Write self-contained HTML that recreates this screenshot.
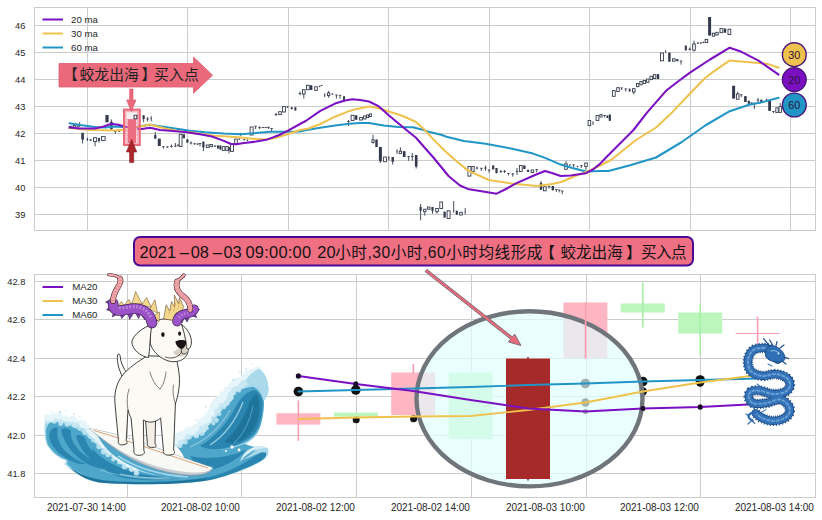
<!DOCTYPE html>
<html><head><meta charset="utf-8"><title>chart</title>
<style>html,body{margin:0;padding:0;background:#fff;}svg{display:block}</style></head>
<body><svg width="822" height="520" viewBox="0 0 822 520">
<rect width="822" height="520" fill="#fff"/>
<rect x="34.5" y="7.5" width="781.0" height="223.0" fill="#fff" stroke="#cccccc" stroke-width="1"/>
<line x1="34.5" x2="815.5" y1="214.5" y2="214.5" stroke="#cccccc" stroke-width="1"/>
<text x="25.4" y="217.7" font-size="9.3" text-anchor="end" fill="#262626" font-family="Liberation Sans, Noto Sans CJK SC, sans-serif">39</text>
<line x1="34.5" x2="815.5" y1="187.5" y2="187.5" stroke="#cccccc" stroke-width="1"/>
<text x="25.4" y="190.7" font-size="9.3" text-anchor="end" fill="#262626" font-family="Liberation Sans, Noto Sans CJK SC, sans-serif">40</text>
<line x1="34.5" x2="815.5" y1="160.5" y2="160.5" stroke="#cccccc" stroke-width="1"/>
<text x="25.4" y="163.7" font-size="9.3" text-anchor="end" fill="#262626" font-family="Liberation Sans, Noto Sans CJK SC, sans-serif">41</text>
<line x1="34.5" x2="815.5" y1="133.5" y2="133.5" stroke="#cccccc" stroke-width="1"/>
<text x="25.4" y="136.7" font-size="9.3" text-anchor="end" fill="#262626" font-family="Liberation Sans, Noto Sans CJK SC, sans-serif">42</text>
<line x1="34.5" x2="815.5" y1="106.5" y2="106.5" stroke="#cccccc" stroke-width="1"/>
<text x="25.4" y="109.7" font-size="9.3" text-anchor="end" fill="#262626" font-family="Liberation Sans, Noto Sans CJK SC, sans-serif">43</text>
<line x1="34.5" x2="815.5" y1="79.5" y2="79.5" stroke="#cccccc" stroke-width="1"/>
<text x="25.4" y="82.7" font-size="9.3" text-anchor="end" fill="#262626" font-family="Liberation Sans, Noto Sans CJK SC, sans-serif">44</text>
<line x1="34.5" x2="815.5" y1="52.5" y2="52.5" stroke="#cccccc" stroke-width="1"/>
<text x="25.4" y="55.7" font-size="9.3" text-anchor="end" fill="#262626" font-family="Liberation Sans, Noto Sans CJK SC, sans-serif">45</text>
<line x1="34.5" x2="815.5" y1="25.5" y2="25.5" stroke="#cccccc" stroke-width="1"/>
<text x="25.4" y="28.7" font-size="9.3" text-anchor="end" fill="#262626" font-family="Liberation Sans, Noto Sans CJK SC, sans-serif">46</text>
<line x1="87.5" x2="87.5" y1="7.5" y2="230.5" stroke="#cccccc" stroke-width="1"/>
<line x1="187.5" x2="187.5" y1="7.5" y2="230.5" stroke="#cccccc" stroke-width="1"/>
<line x1="288.5" x2="288.5" y1="7.5" y2="230.5" stroke="#cccccc" stroke-width="1"/>
<line x1="388.5" x2="388.5" y1="7.5" y2="230.5" stroke="#cccccc" stroke-width="1"/>
<line x1="489.5" x2="489.5" y1="7.5" y2="230.5" stroke="#cccccc" stroke-width="1"/>
<line x1="589.5" x2="589.5" y1="7.5" y2="230.5" stroke="#cccccc" stroke-width="1"/>
<line x1="690.5" x2="690.5" y1="7.5" y2="230.5" stroke="#cccccc" stroke-width="1"/>
<line x1="790.5" x2="790.5" y1="7.5" y2="230.5" stroke="#cccccc" stroke-width="1"/>
<line x1="70.5" x2="70.5" y1="126.3" y2="128.3" stroke="#343a4c" stroke-width="0.9"/>
<rect x="69.2" y="126.3" width="2.6" height="2.0" fill="#fff" stroke="#343a4c" stroke-width="0.9"/>
<line x1="74.5" x2="74.5" y1="125.6" y2="127.2" stroke="#343a4c" stroke-width="0.9"/>
<rect x="73.2" y="125.6" width="2.6" height="1.6" fill="#fff" stroke="#343a4c" stroke-width="0.9"/>
<line x1="78.0" x2="78.0" y1="124.0" y2="128.0" stroke="#343a4c" stroke-width="0.9"/>
<rect x="76.7" y="125.6" width="2.6" height="0.8" fill="#343a4c"/>
<line x1="79.7" x2="79.7" y1="122.0" y2="127.0" stroke="#343a4c" stroke-width="0.9"/>
<rect x="79.1" y="124.1" width="1.2" height="0.8" fill="#343a4c"/>
<line x1="82.6" x2="82.6" y1="132.9" y2="143.5" stroke="#343a4c" stroke-width="0.9"/>
<rect x="81.3" y="132.9" width="2.6" height="6.7" fill="#343a4c"/>
<line x1="87.4" x2="87.4" y1="137.7" y2="141.0" stroke="#343a4c" stroke-width="0.9"/>
<rect x="86.7" y="138.9" width="1.4" height="0.8" fill="#343a4c"/>
<line x1="90.6" x2="90.6" y1="139.0" y2="141.0" stroke="#343a4c" stroke-width="0.9"/>
<rect x="89.3" y="139.6" width="2.6" height="0.8" fill="#343a4c"/>
<line x1="95.1" x2="95.1" y1="137.7" y2="146.3" stroke="#343a4c" stroke-width="0.9"/>
<rect x="93.5" y="137.7" width="3.2" height="3.8" fill="#fff" stroke="#343a4c" stroke-width="0.9"/>
<line x1="99.0" x2="99.0" y1="137.9" y2="142.6" stroke="#343a4c" stroke-width="0.9"/>
<rect x="98.1" y="137.9" width="1.8" height="3.1" fill="#343a4c"/>
<line x1="103.3" x2="103.3" y1="136.6" y2="140.4" stroke="#343a4c" stroke-width="0.9"/>
<rect x="101.5" y="136.6" width="3.6" height="3.8" fill="#fff" stroke="#343a4c" stroke-width="0.9"/>
<line x1="107.0" x2="107.0" y1="115.0" y2="122.3" stroke="#343a4c" stroke-width="0.9"/>
<rect x="105.4" y="115.0" width="3.2" height="7.3" fill="#343a4c"/>
<line x1="111.4" x2="111.4" y1="119.5" y2="129.5" stroke="#343a4c" stroke-width="0.9"/>
<rect x="110.1" y="121.8" width="2.6" height="7.7" fill="#343a4c"/>
<line x1="115.3" x2="115.3" y1="130.3" y2="133.8" stroke="#343a4c" stroke-width="0.9"/>
<rect x="114.0" y="130.9" width="2.6" height="0.8" fill="#343a4c"/>
<line x1="119.3" x2="119.3" y1="130.0" y2="132.0" stroke="#343a4c" stroke-width="0.9"/>
<rect x="118.0" y="130.6" width="2.6" height="0.8" fill="#343a4c"/>
<line x1="135.8" x2="135.8" y1="115.3" y2="118.7" stroke="#343a4c" stroke-width="0.9"/>
<rect x="134.6" y="115.3" width="2.4" height="3.4" fill="#fff" stroke="#343a4c" stroke-width="0.9"/>
<line x1="139.6" x2="139.6" y1="114.8" y2="116.5" stroke="#343a4c" stroke-width="0.9"/>
<rect x="138.7" y="115.2" width="1.8" height="0.8" fill="#343a4c"/>
<line x1="143.6" x2="143.6" y1="115.3" y2="122.2" stroke="#343a4c" stroke-width="0.9"/>
<rect x="142.5" y="115.3" width="2.2" height="3.7" fill="#343a4c"/>
<line x1="147.6" x2="147.6" y1="117.0" y2="121.5" stroke="#343a4c" stroke-width="0.9"/>
<rect x="146.3" y="118.6" width="2.6" height="0.8" fill="#343a4c"/>
<line x1="151.2" x2="151.2" y1="116.0" y2="121.3" stroke="#343a4c" stroke-width="0.9"/>
<rect x="150.6" y="118.1" width="1.2" height="0.8" fill="#343a4c"/>
<line x1="155.3" x2="155.3" y1="132.0" y2="138.7" stroke="#343a4c" stroke-width="0.9"/>
<rect x="154.2" y="135.0" width="2.2" height="3.7" fill="#343a4c"/>
<line x1="159.3" x2="159.3" y1="138.7" y2="146.0" stroke="#343a4c" stroke-width="0.9"/>
<rect x="157.8" y="138.7" width="3.0" height="7.3" fill="#343a4c"/>
<line x1="163.4" x2="163.4" y1="146.5" y2="148.6" stroke="#343a4c" stroke-width="0.9"/>
<rect x="162.1" y="146.4" width="2.6" height="0.8" fill="#343a4c"/>
<line x1="167.4" x2="167.4" y1="146.4" y2="147.8" stroke="#343a4c" stroke-width="0.9"/>
<rect x="166.1" y="146.6" width="2.6" height="0.8" fill="#343a4c"/>
<line x1="171.4" x2="171.4" y1="144.5" y2="147.5" stroke="#343a4c" stroke-width="0.9"/>
<rect x="170.1" y="146.1" width="2.6" height="0.8" fill="#343a4c"/>
<line x1="175.4" x2="175.4" y1="143.0" y2="147.0" stroke="#343a4c" stroke-width="0.9"/>
<rect x="174.1" y="145.6" width="2.6" height="0.8" fill="#343a4c"/>
<line x1="178.0" x2="178.0" y1="144.0" y2="146.5" stroke="#343a4c" stroke-width="0.9"/>
<rect x="177.3" y="145.1" width="1.4" height="0.8" fill="#343a4c"/>
<line x1="180.6" x2="180.6" y1="134.3" y2="146.5" stroke="#343a4c" stroke-width="0.9"/>
<rect x="179.2" y="134.3" width="2.8" height="12.2" fill="#fff" stroke="#343a4c" stroke-width="0.9"/>
<line x1="183.8" x2="183.8" y1="134.3" y2="138.2" stroke="#343a4c" stroke-width="0.9"/>
<rect x="182.6" y="134.3" width="2.4" height="3.9" fill="#343a4c"/>
<line x1="187.4" x2="187.4" y1="139.4" y2="142.6" stroke="#343a4c" stroke-width="0.9"/>
<rect x="186.3" y="139.4" width="2.2" height="3.2" fill="#343a4c"/>
<line x1="191.0" x2="191.0" y1="141.5" y2="144.5" stroke="#343a4c" stroke-width="0.9"/>
<rect x="189.7" y="142.6" width="2.6" height="0.8" fill="#343a4c"/>
<line x1="194.6" x2="194.6" y1="143.2" y2="144.6" stroke="#343a4c" stroke-width="0.9"/>
<rect x="193.3" y="143.4" width="2.6" height="0.8" fill="#343a4c"/>
<line x1="197.6" x2="197.6" y1="143.5" y2="144.8" stroke="#343a4c" stroke-width="0.9"/>
<rect x="196.3" y="143.6" width="2.6" height="0.8" fill="#343a4c"/>
<line x1="200.0" x2="200.0" y1="143.3" y2="146.4" stroke="#343a4c" stroke-width="0.9"/>
<rect x="198.7" y="143.2" width="2.6" height="0.8" fill="#343a4c"/>
<line x1="203.4" x2="203.4" y1="141.6" y2="151.2" stroke="#343a4c" stroke-width="0.9"/>
<rect x="202.3" y="141.6" width="2.2" height="5.8" fill="#343a4c"/>
<line x1="207.7" x2="207.7" y1="145.0" y2="147.4" stroke="#343a4c" stroke-width="0.9"/>
<rect x="206.3" y="145.0" width="2.8" height="2.4" fill="#fff" stroke="#343a4c" stroke-width="0.9"/>
<line x1="211.2" x2="211.2" y1="144.5" y2="146.7" stroke="#343a4c" stroke-width="0.9"/>
<rect x="209.9" y="144.5" width="2.6" height="2.2" fill="#fff" stroke="#343a4c" stroke-width="0.9"/>
<line x1="215.0" x2="215.0" y1="145.3" y2="146.8" stroke="#343a4c" stroke-width="0.9"/>
<rect x="213.7" y="145.6" width="2.6" height="0.8" fill="#343a4c"/>
<line x1="218.0" x2="218.0" y1="145.5" y2="148.5" stroke="#343a4c" stroke-width="0.9"/>
<rect x="217.0" y="145.5" width="2.0" height="3.0" fill="#343a4c"/>
<line x1="220.4" x2="220.4" y1="145.5" y2="149.6" stroke="#343a4c" stroke-width="0.9"/>
<rect x="219.4" y="145.5" width="2.0" height="4.1" fill="#343a4c"/>
<line x1="223.6" x2="223.6" y1="146.7" y2="150.4" stroke="#343a4c" stroke-width="0.9"/>
<rect x="222.3" y="146.7" width="2.6" height="3.7" fill="#fff" stroke="#343a4c" stroke-width="0.9"/>
<line x1="227.0" x2="227.0" y1="146.4" y2="150.4" stroke="#343a4c" stroke-width="0.9"/>
<rect x="225.8" y="146.4" width="2.4" height="4.0" fill="#fff" stroke="#343a4c" stroke-width="0.9"/>
<line x1="229.0" x2="229.0" y1="147.0" y2="153.3" stroke="#343a4c" stroke-width="0.9"/>
<rect x="228.2" y="147.0" width="1.6" height="3.4" fill="#343a4c"/>
<line x1="232.0" x2="232.0" y1="143.8" y2="151.4" stroke="#343a4c" stroke-width="0.9"/>
<rect x="230.5" y="143.8" width="3.0" height="7.6" fill="#fff" stroke="#343a4c" stroke-width="0.9"/>
<line x1="236.0" x2="236.0" y1="139.1" y2="143.8" stroke="#343a4c" stroke-width="0.9"/>
<rect x="234.7" y="139.1" width="2.6" height="4.7" fill="#fff" stroke="#343a4c" stroke-width="0.9"/>
<line x1="239.3" x2="239.3" y1="138.4" y2="140.0" stroke="#343a4c" stroke-width="0.9"/>
<rect x="238.4" y="138.5" width="1.8" height="0.8" fill="#343a4c"/>
<line x1="240.6" x2="240.6" y1="132.8" y2="135.8" stroke="#343a4c" stroke-width="0.9"/>
<rect x="240.2" y="133.6" width="0.8" height="0.8" fill="#343a4c"/>
<line x1="244.2" x2="244.2" y1="139.0" y2="140.5" stroke="#343a4c" stroke-width="0.9"/>
<rect x="243.3" y="139.1" width="1.8" height="0.8" fill="#343a4c"/>
<line x1="247.4" x2="247.4" y1="139.6" y2="141.0" stroke="#343a4c" stroke-width="0.9"/>
<rect x="246.5" y="139.6" width="1.8" height="0.8" fill="#343a4c"/>
<line x1="251.6" x2="251.6" y1="127.0" y2="135.0" stroke="#343a4c" stroke-width="0.9"/>
<rect x="250.1" y="127.0" width="3.0" height="8.0" fill="#fff" stroke="#343a4c" stroke-width="0.9"/>
<line x1="255.6" x2="255.6" y1="126.0" y2="129.0" stroke="#343a4c" stroke-width="0.9"/>
<rect x="254.3" y="125.8" width="2.6" height="0.8" fill="#343a4c"/>
<line x1="259.6" x2="259.6" y1="126.3" y2="129.0" stroke="#343a4c" stroke-width="0.9"/>
<rect x="258.3" y="127.3" width="2.6" height="0.8" fill="#343a4c"/>
<line x1="263.0" x2="263.0" y1="127.0" y2="128.0" stroke="#343a4c" stroke-width="0.9"/>
<rect x="261.7" y="127.0" width="2.6" height="0.8" fill="#343a4c"/>
<line x1="266.0" x2="266.0" y1="127.0" y2="128.0" stroke="#343a4c" stroke-width="0.9"/>
<rect x="264.7" y="127.0" width="2.6" height="0.8" fill="#343a4c"/>
<line x1="268.6" x2="268.6" y1="126.9" y2="129.0" stroke="#343a4c" stroke-width="0.9"/>
<rect x="267.3" y="126.7" width="2.6" height="0.8" fill="#343a4c"/>
<line x1="271.6" x2="271.6" y1="128.4" y2="131.4" stroke="#343a4c" stroke-width="0.9"/>
<rect x="270.3" y="128.2" width="2.6" height="0.8" fill="#343a4c"/>
<line x1="276.0" x2="276.0" y1="112.8" y2="116.0" stroke="#343a4c" stroke-width="0.9"/>
<rect x="274.7" y="114.0" width="2.6" height="0.8" fill="#343a4c"/>
<line x1="280.0" x2="280.0" y1="111.7" y2="114.6" stroke="#343a4c" stroke-width="0.9"/>
<rect x="278.7" y="111.7" width="2.6" height="2.9" fill="#fff" stroke="#343a4c" stroke-width="0.9"/>
<line x1="284.0" x2="284.0" y1="106.6" y2="112.0" stroke="#343a4c" stroke-width="0.9"/>
<rect x="282.6" y="106.6" width="2.8" height="5.4" fill="#fff" stroke="#343a4c" stroke-width="0.9"/>
<line x1="287.6" x2="287.6" y1="106.3" y2="108.0" stroke="#343a4c" stroke-width="0.9"/>
<rect x="286.7" y="106.4" width="1.8" height="0.8" fill="#343a4c"/>
<line x1="291.7" x2="291.7" y1="107.3" y2="109.2" stroke="#343a4c" stroke-width="0.9"/>
<rect x="290.7" y="107.3" width="2.0" height="1.9" fill="#343a4c"/>
<line x1="295.4" x2="295.4" y1="107.3" y2="110.5" stroke="#343a4c" stroke-width="0.9"/>
<rect x="294.4" y="107.3" width="2.0" height="3.2" fill="#343a4c"/>
<line x1="300.0" x2="300.0" y1="91.5" y2="95.2" stroke="#343a4c" stroke-width="0.9"/>
<rect x="298.7" y="93.0" width="2.6" height="0.8" fill="#343a4c"/>
<line x1="303.8" x2="303.8" y1="89.7" y2="98.5" stroke="#343a4c" stroke-width="0.9"/>
<rect x="302.5" y="89.7" width="2.6" height="4.3" fill="#fff" stroke="#343a4c" stroke-width="0.9"/>
<line x1="307.9" x2="307.9" y1="85.3" y2="89.7" stroke="#343a4c" stroke-width="0.9"/>
<rect x="306.5" y="85.3" width="2.8" height="4.4" fill="#fff" stroke="#343a4c" stroke-width="0.9"/>
<line x1="311.2" x2="311.2" y1="85.3" y2="90.0" stroke="#343a4c" stroke-width="0.9"/>
<rect x="310.0" y="85.3" width="2.4" height="4.7" fill="#343a4c"/>
<line x1="316.0" x2="316.0" y1="86.8" y2="90.4" stroke="#343a4c" stroke-width="0.9"/>
<rect x="314.7" y="86.8" width="2.6" height="3.6" fill="#fff" stroke="#343a4c" stroke-width="0.9"/>
<line x1="319.6" x2="319.6" y1="85.8" y2="87.2" stroke="#343a4c" stroke-width="0.9"/>
<rect x="318.7" y="85.8" width="1.8" height="0.8" fill="#343a4c"/>
<line x1="321.6" x2="321.6" y1="85.0" y2="86.0" stroke="#343a4c" stroke-width="0.9"/>
<rect x="320.7" y="84.9" width="1.8" height="0.8" fill="#343a4c"/>
<line x1="324.7" x2="324.7" y1="93.4" y2="97.0" stroke="#343a4c" stroke-width="0.9"/>
<rect x="324.1" y="94.6" width="1.2" height="0.8" fill="#343a4c"/>
<line x1="328.6" x2="328.6" y1="91.0" y2="97.7" stroke="#343a4c" stroke-width="0.9"/>
<rect x="327.4" y="93.0" width="2.4" height="2.6" fill="#fff" stroke="#343a4c" stroke-width="0.9"/>
<line x1="332.4" x2="332.4" y1="93.6" y2="95.0" stroke="#343a4c" stroke-width="0.9"/>
<rect x="331.4" y="93.6" width="2.0" height="0.8" fill="#343a4c"/>
<line x1="336.4" x2="336.4" y1="94.8" y2="98.5" stroke="#343a4c" stroke-width="0.9"/>
<rect x="335.1" y="94.6" width="2.6" height="0.8" fill="#343a4c"/>
<line x1="340.0" x2="340.0" y1="95.0" y2="98.5" stroke="#343a4c" stroke-width="0.9"/>
<rect x="338.7" y="94.8" width="2.6" height="0.8" fill="#343a4c"/>
<line x1="344.0" x2="344.0" y1="96.3" y2="101.4" stroke="#343a4c" stroke-width="0.9"/>
<rect x="343.0" y="96.3" width="2.0" height="5.1" fill="#343a4c"/>
<line x1="348.5" x2="348.5" y1="120.0" y2="126.0" stroke="#343a4c" stroke-width="0.9"/>
<rect x="347.3" y="121.0" width="2.4" height="0.8" fill="#343a4c"/>
<line x1="352.6" x2="352.6" y1="115.3" y2="120.4" stroke="#343a4c" stroke-width="0.9"/>
<rect x="351.1" y="115.3" width="3.0" height="5.1" fill="#fff" stroke="#343a4c" stroke-width="0.9"/>
<line x1="356.2" x2="356.2" y1="115.3" y2="119.7" stroke="#343a4c" stroke-width="0.9"/>
<rect x="355.0" y="115.3" width="2.4" height="4.4" fill="#343a4c"/>
<line x1="361.0" x2="361.0" y1="117.5" y2="120.0" stroke="#343a4c" stroke-width="0.9"/>
<rect x="359.6" y="117.5" width="2.8" height="2.5" fill="#fff" stroke="#343a4c" stroke-width="0.9"/>
<line x1="364.8" x2="364.8" y1="116.0" y2="119.0" stroke="#343a4c" stroke-width="0.9"/>
<rect x="363.6" y="116.0" width="2.4" height="3.0" fill="#fff" stroke="#343a4c" stroke-width="0.9"/>
<line x1="367.6" x2="367.6" y1="115.0" y2="117.6" stroke="#343a4c" stroke-width="0.9"/>
<rect x="366.6" y="115.0" width="2.0" height="2.6" fill="#fff" stroke="#343a4c" stroke-width="0.9"/>
<line x1="370.4" x2="370.4" y1="113.9" y2="116.6" stroke="#343a4c" stroke-width="0.9"/>
<rect x="369.4" y="113.9" width="2.0" height="2.7" fill="#fff" stroke="#343a4c" stroke-width="0.9"/>
<line x1="373.0" x2="373.0" y1="134.8" y2="143.5" stroke="#343a4c" stroke-width="0.9"/>
<rect x="371.9" y="139.8" width="2.2" height="2.6" fill="#fff" stroke="#343a4c" stroke-width="0.9"/>
<line x1="376.5" x2="376.5" y1="139.6" y2="147.0" stroke="#343a4c" stroke-width="0.9"/>
<rect x="375.3" y="139.6" width="2.4" height="7.4" fill="#343a4c"/>
<line x1="380.4" x2="380.4" y1="147.0" y2="163.0" stroke="#343a4c" stroke-width="0.9"/>
<rect x="378.9" y="147.0" width="3.0" height="14.2" fill="#343a4c"/>
<line x1="385.0" x2="385.0" y1="157.0" y2="161.7" stroke="#343a4c" stroke-width="0.9"/>
<rect x="383.6" y="157.0" width="2.8" height="4.7" fill="#fff" stroke="#343a4c" stroke-width="0.9"/>
<line x1="388.8" x2="388.8" y1="156.0" y2="160.5" stroke="#343a4c" stroke-width="0.9"/>
<rect x="388.3" y="158.1" width="1.0" height="0.8" fill="#343a4c"/>
<line x1="392.7" x2="392.7" y1="157.0" y2="164.6" stroke="#343a4c" stroke-width="0.9"/>
<rect x="391.5" y="157.0" width="2.4" height="4.7" fill="#343a4c"/>
<line x1="397.0" x2="397.0" y1="149.2" y2="154.0" stroke="#343a4c" stroke-width="0.9"/>
<rect x="396.6" y="151.1" width="0.8" height="0.8" fill="#343a4c"/>
<line x1="400.4" x2="400.4" y1="147.3" y2="153.5" stroke="#343a4c" stroke-width="0.9"/>
<rect x="399.2" y="151.2" width="2.4" height="2.3" fill="#fff" stroke="#343a4c" stroke-width="0.9"/>
<line x1="404.2" x2="404.2" y1="151.2" y2="157.0" stroke="#343a4c" stroke-width="0.9"/>
<rect x="402.9" y="151.2" width="2.6" height="5.8" fill="#343a4c"/>
<line x1="408.7" x2="408.7" y1="156.4" y2="160.8" stroke="#343a4c" stroke-width="0.9"/>
<rect x="407.4" y="156.2" width="2.6" height="0.8" fill="#343a4c"/>
<line x1="412.3" x2="412.3" y1="153.0" y2="160.8" stroke="#343a4c" stroke-width="0.9"/>
<rect x="411.0" y="156.2" width="2.6" height="0.8" fill="#343a4c"/>
<line x1="416.2" x2="416.2" y1="155.0" y2="168.5" stroke="#343a4c" stroke-width="0.9"/>
<rect x="414.9" y="155.0" width="2.6" height="11.5" fill="#343a4c"/>
<line x1="420.6" x2="420.6" y1="204.0" y2="220.4" stroke="#343a4c" stroke-width="0.9"/>
<rect x="419.5" y="207.0" width="2.2" height="3.8" fill="#343a4c"/>
<line x1="424.8" x2="424.8" y1="209.2" y2="215.6" stroke="#343a4c" stroke-width="0.9"/>
<rect x="423.6" y="209.2" width="2.4" height="2.5" fill="#fff" stroke="#343a4c" stroke-width="0.9"/>
<line x1="428.7" x2="428.7" y1="207.0" y2="209.2" stroke="#343a4c" stroke-width="0.9"/>
<rect x="427.4" y="207.0" width="2.6" height="2.2" fill="#fff" stroke="#343a4c" stroke-width="0.9"/>
<line x1="432.5" x2="432.5" y1="207.0" y2="213.7" stroke="#343a4c" stroke-width="0.9"/>
<rect x="431.4" y="207.0" width="2.2" height="3.8" fill="#343a4c"/>
<line x1="437.0" x2="437.0" y1="208.5" y2="213.7" stroke="#343a4c" stroke-width="0.9"/>
<rect x="435.7" y="208.5" width="2.6" height="3.2" fill="#fff" stroke="#343a4c" stroke-width="0.9"/>
<line x1="441.2" x2="441.2" y1="202.0" y2="208.5" stroke="#343a4c" stroke-width="0.9"/>
<rect x="439.8" y="202.0" width="2.8" height="6.5" fill="#fff" stroke="#343a4c" stroke-width="0.9"/>
<line x1="444.6" x2="444.6" y1="211.7" y2="217.5" stroke="#343a4c" stroke-width="0.9"/>
<rect x="443.5" y="211.7" width="2.2" height="5.8" fill="#343a4c"/>
<line x1="448.6" x2="448.6" y1="210.8" y2="218.5" stroke="#343a4c" stroke-width="0.9"/>
<rect x="447.1" y="210.8" width="3.0" height="7.7" fill="#fff" stroke="#343a4c" stroke-width="0.9"/>
<line x1="453.7" x2="453.7" y1="201.0" y2="212.7" stroke="#343a4c" stroke-width="0.9"/>
<rect x="453.2" y="210.1" width="1.0" height="0.8" fill="#343a4c"/>
<line x1="456.8" x2="456.8" y1="210.8" y2="214.6" stroke="#343a4c" stroke-width="0.9"/>
<rect x="455.7" y="210.8" width="2.2" height="3.8" fill="#343a4c"/>
<line x1="461.0" x2="461.0" y1="212.3" y2="215.0" stroke="#343a4c" stroke-width="0.9"/>
<rect x="459.7" y="212.3" width="2.6" height="2.7" fill="#fff" stroke="#343a4c" stroke-width="0.9"/>
<line x1="465.2" x2="465.2" y1="207.9" y2="214.6" stroke="#343a4c" stroke-width="0.9"/>
<rect x="464.7" y="211.6" width="1.0" height="0.8" fill="#343a4c"/>
<line x1="469.4" x2="469.4" y1="166.4" y2="176.1" stroke="#343a4c" stroke-width="0.9"/>
<rect x="467.9" y="166.4" width="3.0" height="9.7" fill="#fff" stroke="#343a4c" stroke-width="0.9"/>
<line x1="473.0" x2="473.0" y1="166.4" y2="171.5" stroke="#343a4c" stroke-width="0.9"/>
<rect x="471.8" y="166.4" width="2.4" height="5.1" fill="#fff" stroke="#343a4c" stroke-width="0.9"/>
<line x1="477.0" x2="477.0" y1="166.5" y2="169.5" stroke="#343a4c" stroke-width="0.9"/>
<rect x="475.7" y="167.6" width="2.6" height="0.8" fill="#343a4c"/>
<line x1="481.3" x2="481.3" y1="168.0" y2="171.0" stroke="#343a4c" stroke-width="0.9"/>
<rect x="480.0" y="167.8" width="2.6" height="0.8" fill="#343a4c"/>
<line x1="485.5" x2="485.5" y1="165.5" y2="170.7" stroke="#343a4c" stroke-width="0.9"/>
<rect x="484.2" y="167.6" width="2.6" height="0.8" fill="#343a4c"/>
<line x1="489.0" x2="489.0" y1="169.8" y2="172.7" stroke="#343a4c" stroke-width="0.9"/>
<rect x="487.7" y="169.5" width="2.6" height="0.8" fill="#343a4c"/>
<line x1="493.2" x2="493.2" y1="165.5" y2="169.3" stroke="#343a4c" stroke-width="0.9"/>
<rect x="492.1" y="165.5" width="2.2" height="3.8" fill="#343a4c"/>
<line x1="496.5" x2="496.5" y1="168.0" y2="173.2" stroke="#343a4c" stroke-width="0.9"/>
<rect x="495.4" y="168.0" width="2.2" height="5.2" fill="#343a4c"/>
<line x1="500.9" x2="500.9" y1="170.0" y2="173.0" stroke="#343a4c" stroke-width="0.9"/>
<rect x="499.6" y="171.1" width="2.6" height="0.8" fill="#343a4c"/>
<line x1="504.6" x2="504.6" y1="170.0" y2="173.0" stroke="#343a4c" stroke-width="0.9"/>
<rect x="503.3" y="171.1" width="2.6" height="0.8" fill="#343a4c"/>
<line x1="508.5" x2="508.5" y1="173.2" y2="175.4" stroke="#343a4c" stroke-width="0.9"/>
<rect x="507.2" y="172.9" width="2.6" height="0.8" fill="#343a4c"/>
<line x1="512.8" x2="512.8" y1="173.0" y2="176.6" stroke="#343a4c" stroke-width="0.9"/>
<rect x="511.5" y="173.6" width="2.6" height="0.8" fill="#343a4c"/>
<line x1="517.0" x2="517.0" y1="168.0" y2="175.0" stroke="#343a4c" stroke-width="0.9"/>
<rect x="515.7" y="171.1" width="2.6" height="0.8" fill="#343a4c"/>
<line x1="520.8" x2="520.8" y1="165.5" y2="171.5" stroke="#343a4c" stroke-width="0.9"/>
<rect x="519.4" y="165.5" width="2.8" height="6.0" fill="#fff" stroke="#343a4c" stroke-width="0.9"/>
<line x1="524.4" x2="524.4" y1="165.5" y2="169.0" stroke="#343a4c" stroke-width="0.9"/>
<rect x="523.2" y="165.5" width="2.4" height="3.5" fill="#343a4c"/>
<line x1="528.0" x2="528.0" y1="169.8" y2="171.9" stroke="#343a4c" stroke-width="0.9"/>
<rect x="526.9" y="169.8" width="2.2" height="2.1" fill="#343a4c"/>
<line x1="532.4" x2="532.4" y1="170.0" y2="172.5" stroke="#343a4c" stroke-width="0.9"/>
<rect x="531.1" y="170.0" width="2.6" height="2.5" fill="#fff" stroke="#343a4c" stroke-width="0.9"/>
<line x1="536.7" x2="536.7" y1="169.3" y2="172.4" stroke="#343a4c" stroke-width="0.9"/>
<rect x="535.4" y="169.2" width="2.6" height="0.8" fill="#343a4c"/>
<line x1="541.0" x2="541.0" y1="180.9" y2="189.7" stroke="#343a4c" stroke-width="0.9"/>
<rect x="539.8" y="183.0" width="2.4" height="6.7" fill="#343a4c"/>
<line x1="544.8" x2="544.8" y1="186.8" y2="190.8" stroke="#343a4c" stroke-width="0.9"/>
<rect x="543.4" y="186.8" width="2.8" height="4.0" fill="#fff" stroke="#343a4c" stroke-width="0.9"/>
<line x1="549.0" x2="549.0" y1="186.0" y2="188.5" stroke="#343a4c" stroke-width="0.9"/>
<rect x="547.7" y="185.8" width="2.6" height="0.8" fill="#343a4c"/>
<line x1="552.8" x2="552.8" y1="186.0" y2="190.3" stroke="#343a4c" stroke-width="0.9"/>
<rect x="551.6" y="186.0" width="2.4" height="4.3" fill="#343a4c"/>
<line x1="556.3" x2="556.3" y1="189.4" y2="192.0" stroke="#343a4c" stroke-width="0.9"/>
<rect x="555.0" y="189.2" width="2.6" height="0.8" fill="#343a4c"/>
<line x1="559.2" x2="559.2" y1="189.8" y2="192.4" stroke="#343a4c" stroke-width="0.9"/>
<rect x="557.9" y="189.6" width="2.6" height="0.8" fill="#343a4c"/>
<line x1="562.2" x2="562.2" y1="190.8" y2="194.2" stroke="#343a4c" stroke-width="0.9"/>
<rect x="560.9" y="190.6" width="2.6" height="0.8" fill="#343a4c"/>
<line x1="566.0" x2="566.0" y1="161.3" y2="169.3" stroke="#343a4c" stroke-width="0.9"/>
<rect x="564.7" y="163.9" width="2.6" height="5.4" fill="#fff" stroke="#343a4c" stroke-width="0.9"/>
<line x1="569.9" x2="569.9" y1="164.4" y2="165.8" stroke="#343a4c" stroke-width="0.9"/>
<rect x="569.1" y="164.5" width="1.6" height="0.8" fill="#343a4c"/>
<line x1="573.6" x2="573.6" y1="164.7" y2="167.0" stroke="#343a4c" stroke-width="0.9"/>
<rect x="572.3" y="164.5" width="2.6" height="0.8" fill="#343a4c"/>
<line x1="577.5" x2="577.5" y1="165.8" y2="167.2" stroke="#343a4c" stroke-width="0.9"/>
<rect x="576.7" y="166.0" width="1.6" height="0.8" fill="#343a4c"/>
<line x1="581.3" x2="581.3" y1="165.5" y2="168.0" stroke="#343a4c" stroke-width="0.9"/>
<rect x="580.0" y="165.3" width="2.6" height="0.8" fill="#343a4c"/>
<line x1="586.0" x2="586.0" y1="163.0" y2="169.8" stroke="#343a4c" stroke-width="0.9"/>
<rect x="584.7" y="163.0" width="2.6" height="3.4" fill="#fff" stroke="#343a4c" stroke-width="0.9"/>
<line x1="589.4" x2="589.4" y1="120.4" y2="125.6" stroke="#343a4c" stroke-width="0.9"/>
<rect x="588.1" y="120.4" width="2.6" height="5.2" fill="#fff" stroke="#343a4c" stroke-width="0.9"/>
<line x1="593.0" x2="593.0" y1="121.3" y2="125.0" stroke="#343a4c" stroke-width="0.9"/>
<rect x="592.6" y="122.6" width="0.8" height="0.8" fill="#343a4c"/>
<line x1="597.5" x2="597.5" y1="115.6" y2="120.4" stroke="#343a4c" stroke-width="0.9"/>
<rect x="596.1" y="115.6" width="2.8" height="4.8" fill="#fff" stroke="#343a4c" stroke-width="0.9"/>
<line x1="601.0" x2="601.0" y1="114.6" y2="117.0" stroke="#343a4c" stroke-width="0.9"/>
<rect x="599.9" y="114.6" width="2.2" height="2.4" fill="#fff" stroke="#343a4c" stroke-width="0.9"/>
<line x1="604.6" x2="604.6" y1="115.0" y2="117.4" stroke="#343a4c" stroke-width="0.9"/>
<rect x="603.3" y="115.1" width="2.6" height="0.8" fill="#343a4c"/>
<line x1="607.4" x2="607.4" y1="115.6" y2="118.0" stroke="#343a4c" stroke-width="0.9"/>
<rect x="606.5" y="115.6" width="1.8" height="2.4" fill="#343a4c"/>
<line x1="609.8" x2="609.8" y1="114.6" y2="120.8" stroke="#343a4c" stroke-width="0.9"/>
<rect x="608.7" y="114.6" width="2.2" height="6.2" fill="#343a4c"/>
<line x1="613.8" x2="613.8" y1="90.6" y2="96.3" stroke="#343a4c" stroke-width="0.9"/>
<rect x="612.4" y="90.6" width="2.8" height="5.7" fill="#fff" stroke="#343a4c" stroke-width="0.9"/>
<line x1="618.0" x2="618.0" y1="87.7" y2="91.5" stroke="#343a4c" stroke-width="0.9"/>
<rect x="616.7" y="87.7" width="2.6" height="3.8" fill="#fff" stroke="#343a4c" stroke-width="0.9"/>
<line x1="621.6" x2="621.6" y1="87.7" y2="90.0" stroke="#343a4c" stroke-width="0.9"/>
<rect x="620.3" y="87.5" width="2.6" height="0.8" fill="#343a4c"/>
<line x1="625.8" x2="625.8" y1="88.7" y2="91.5" stroke="#343a4c" stroke-width="0.9"/>
<rect x="624.5" y="88.5" width="2.6" height="0.8" fill="#343a4c"/>
<line x1="629.6" x2="629.6" y1="88.7" y2="91.5" stroke="#343a4c" stroke-width="0.9"/>
<rect x="628.7" y="88.7" width="1.8" height="2.8" fill="#343a4c"/>
<line x1="633.8" x2="633.8" y1="88.7" y2="94.4" stroke="#343a4c" stroke-width="0.9"/>
<rect x="632.5" y="88.7" width="2.6" height="3.3" fill="#fff" stroke="#343a4c" stroke-width="0.9"/>
<line x1="637.7" x2="637.7" y1="83.5" y2="86.7" stroke="#343a4c" stroke-width="0.9"/>
<rect x="636.5" y="83.5" width="2.4" height="3.2" fill="#fff" stroke="#343a4c" stroke-width="0.9"/>
<line x1="641.0" x2="641.0" y1="81.5" y2="84.8" stroke="#343a4c" stroke-width="0.9"/>
<rect x="639.8" y="81.5" width="2.4" height="3.3" fill="#fff" stroke="#343a4c" stroke-width="0.9"/>
<line x1="644.4" x2="644.4" y1="80.4" y2="83.5" stroke="#343a4c" stroke-width="0.9"/>
<rect x="643.2" y="80.4" width="2.4" height="3.1" fill="#fff" stroke="#343a4c" stroke-width="0.9"/>
<line x1="647.8" x2="647.8" y1="79.0" y2="82.3" stroke="#343a4c" stroke-width="0.9"/>
<rect x="646.6" y="79.0" width="2.4" height="3.3" fill="#fff" stroke="#343a4c" stroke-width="0.9"/>
<line x1="651.2" x2="651.2" y1="76.2" y2="79.6" stroke="#343a4c" stroke-width="0.9"/>
<rect x="650.0" y="76.2" width="2.4" height="3.4" fill="#fff" stroke="#343a4c" stroke-width="0.9"/>
<line x1="654.6" x2="654.6" y1="74.6" y2="78.5" stroke="#343a4c" stroke-width="0.9"/>
<rect x="653.4" y="74.6" width="2.4" height="3.9" fill="#fff" stroke="#343a4c" stroke-width="0.9"/>
<line x1="658.0" x2="658.0" y1="74.2" y2="79.0" stroke="#343a4c" stroke-width="0.9"/>
<rect x="656.8" y="74.2" width="2.4" height="4.8" fill="#343a4c"/>
<line x1="662.0" x2="662.0" y1="53.0" y2="60.8" stroke="#343a4c" stroke-width="0.9"/>
<rect x="660.5" y="53.0" width="3.0" height="7.8" fill="#fff" stroke="#343a4c" stroke-width="0.9"/>
<line x1="665.6" x2="665.6" y1="50.2" y2="53.0" stroke="#343a4c" stroke-width="0.9"/>
<rect x="665.2" y="51.1" width="0.8" height="0.8" fill="#343a4c"/>
<line x1="669.4" x2="669.4" y1="52.7" y2="61.7" stroke="#343a4c" stroke-width="0.9"/>
<rect x="668.2" y="52.7" width="2.4" height="9.0" fill="#343a4c"/>
<line x1="673.8" x2="673.8" y1="58.8" y2="61.2" stroke="#343a4c" stroke-width="0.9"/>
<rect x="672.5" y="58.8" width="2.6" height="2.4" fill="#fff" stroke="#343a4c" stroke-width="0.9"/>
<line x1="677.3" x2="677.3" y1="59.0" y2="61.2" stroke="#343a4c" stroke-width="0.9"/>
<rect x="676.2" y="59.0" width="2.2" height="2.2" fill="#343a4c"/>
<line x1="681.0" x2="681.0" y1="60.8" y2="64.6" stroke="#343a4c" stroke-width="0.9"/>
<rect x="679.7" y="60.6" width="2.6" height="0.8" fill="#343a4c"/>
<line x1="685.8" x2="685.8" y1="45.6" y2="50.4" stroke="#343a4c" stroke-width="0.9"/>
<rect x="684.8" y="45.6" width="2.0" height="4.8" fill="#343a4c"/>
<line x1="689.7" x2="689.7" y1="47.5" y2="50.5" stroke="#343a4c" stroke-width="0.9"/>
<rect x="688.4" y="48.8" width="2.6" height="0.8" fill="#343a4c"/>
<line x1="694.0" x2="694.0" y1="40.6" y2="51.5" stroke="#343a4c" stroke-width="0.9"/>
<rect x="692.7" y="44.0" width="2.6" height="6.2" fill="#fff" stroke="#343a4c" stroke-width="0.9"/>
<line x1="697.9" x2="697.9" y1="42.0" y2="44.0" stroke="#343a4c" stroke-width="0.9"/>
<rect x="696.9" y="42.6" width="2.0" height="0.8" fill="#343a4c"/>
<line x1="700.8" x2="700.8" y1="42.2" y2="43.8" stroke="#343a4c" stroke-width="0.9"/>
<rect x="699.8" y="42.6" width="2.0" height="0.8" fill="#343a4c"/>
<line x1="703.4" x2="703.4" y1="41.6" y2="43.2" stroke="#343a4c" stroke-width="0.9"/>
<rect x="702.4" y="42.0" width="2.0" height="0.8" fill="#343a4c"/>
<line x1="706.4" x2="706.4" y1="39.4" y2="42.6" stroke="#343a4c" stroke-width="0.9"/>
<rect x="705.1" y="39.4" width="2.6" height="3.2" fill="#fff" stroke="#343a4c" stroke-width="0.9"/>
<line x1="709.6" x2="709.6" y1="17.0" y2="35.5" stroke="#343a4c" stroke-width="0.9"/>
<rect x="708.1" y="17.0" width="3.0" height="18.5" fill="#343a4c"/>
<line x1="713.5" x2="713.5" y1="33.2" y2="36.2" stroke="#343a4c" stroke-width="0.9"/>
<rect x="712.3" y="33.2" width="2.4" height="3.0" fill="#fff" stroke="#343a4c" stroke-width="0.9"/>
<line x1="717.0" x2="717.0" y1="32.3" y2="35.0" stroke="#343a4c" stroke-width="0.9"/>
<rect x="715.8" y="32.3" width="2.4" height="2.7" fill="#fff" stroke="#343a4c" stroke-width="0.9"/>
<line x1="721.4" x2="721.4" y1="28.6" y2="32.7" stroke="#343a4c" stroke-width="0.9"/>
<rect x="720.0" y="28.6" width="2.8" height="4.1" fill="#fff" stroke="#343a4c" stroke-width="0.9"/>
<line x1="725.0" x2="725.0" y1="28.6" y2="32.7" stroke="#343a4c" stroke-width="0.9"/>
<rect x="723.8" y="28.6" width="2.4" height="4.1" fill="#343a4c"/>
<line x1="729.4" x2="729.4" y1="29.2" y2="34.6" stroke="#343a4c" stroke-width="0.9"/>
<rect x="728.0" y="29.2" width="2.8" height="5.4" fill="#fff" stroke="#343a4c" stroke-width="0.9"/>
<line x1="733.6" x2="733.6" y1="85.8" y2="98.5" stroke="#343a4c" stroke-width="0.9"/>
<rect x="732.1" y="85.8" width="3.0" height="12.7" fill="#343a4c"/>
<line x1="737.7" x2="737.7" y1="91.6" y2="99.2" stroke="#343a4c" stroke-width="0.9"/>
<rect x="736.4" y="93.9" width="2.6" height="5.3" fill="#fff" stroke="#343a4c" stroke-width="0.9"/>
<line x1="741.2" x2="741.2" y1="94.6" y2="97.0" stroke="#343a4c" stroke-width="0.9"/>
<rect x="739.9" y="94.4" width="2.6" height="0.8" fill="#343a4c"/>
<line x1="745.4" x2="745.4" y1="96.2" y2="102.0" stroke="#343a4c" stroke-width="0.9"/>
<rect x="744.1" y="96.2" width="2.6" height="5.8" fill="#343a4c"/>
<line x1="748.8" x2="748.8" y1="100.8" y2="103.8" stroke="#343a4c" stroke-width="0.9"/>
<rect x="747.7" y="100.8" width="2.2" height="3.0" fill="#343a4c"/>
<line x1="751.6" x2="751.6" y1="102.4" y2="104.0" stroke="#343a4c" stroke-width="0.9"/>
<rect x="750.3" y="102.6" width="2.6" height="0.8" fill="#343a4c"/>
<line x1="754.4" x2="754.4" y1="103.0" y2="109.0" stroke="#343a4c" stroke-width="0.9"/>
<rect x="753.1" y="102.8" width="2.6" height="0.8" fill="#343a4c"/>
<line x1="758.0" x2="758.0" y1="98.0" y2="102.0" stroke="#343a4c" stroke-width="0.9"/>
<rect x="756.7" y="99.6" width="2.6" height="0.8" fill="#343a4c"/>
<line x1="761.3" x2="761.3" y1="99.7" y2="103.0" stroke="#343a4c" stroke-width="0.9"/>
<rect x="760.2" y="99.7" width="2.2" height="3.3" fill="#343a4c"/>
<line x1="766.6" x2="766.6" y1="98.5" y2="100.8" stroke="#343a4c" stroke-width="0.9"/>
<rect x="766.1" y="99.1" width="1.0" height="0.8" fill="#343a4c"/>
<line x1="769.6" x2="769.6" y1="100.8" y2="110.8" stroke="#343a4c" stroke-width="0.9"/>
<rect x="768.2" y="100.8" width="2.8" height="10.0" fill="#343a4c"/>
<line x1="773.5" x2="773.5" y1="111.2" y2="113.0" stroke="#343a4c" stroke-width="0.9"/>
<rect x="772.2" y="110.9" width="2.6" height="0.8" fill="#343a4c"/>
<line x1="777.0" x2="777.0" y1="107.8" y2="112.4" stroke="#343a4c" stroke-width="0.9"/>
<rect x="775.8" y="107.8" width="2.4" height="4.6" fill="#fff" stroke="#343a4c" stroke-width="0.9"/>
<line x1="780.2" x2="780.2" y1="103.0" y2="112.4" stroke="#343a4c" stroke-width="0.9"/>
<rect x="779.0" y="106.6" width="2.4" height="5.8" fill="#fff" stroke="#343a4c" stroke-width="0.9"/>
<polyline points="69.6,123.3 80.0,125.0 95.0,127.0 105.0,127.5 115.0,126.5 122.0,127.0 140.0,126.3 150.0,124.8 160.0,126.3 175.0,128.5 190.0,130.7 205.0,132.2 223.8,133.6 241.3,134.3 256.0,133.0 270.5,131.8 285.0,131.8 300.0,131.4 304.0,130.5 320.0,127.7 335.0,125.5 349.5,123.7 360.0,122.9 369.0,122.9 383.8,125.5 398.4,127.0 413.0,127.2 423.5,130.0 427.6,131.4 442.0,135.0 446.5,136.7 463.8,141.0 480.0,143.0 485.5,143.7 511.0,148.5 533.0,153.6 545.0,157.9 559.0,163.9 572.4,168.0 586.0,171.5 600.0,171.0 608.5,171.0 631.0,165.0 656.0,157.5 681.0,142.5 706.0,125.0 729.7,111.2 749.0,104.8 761.0,102.5 778.6,97.8" fill="none" stroke="#2196c6" stroke-width="2.05" stroke-linejoin="round" stroke-linecap="round"/>
<polyline points="69.6,127.9 90.0,130.0 115.0,130.5 125.0,129.5 140.0,126.8 150.0,124.6 165.0,128.5 180.0,131.4 194.6,132.8 200.0,133.9 215.0,135.8 223.8,136.2 238.4,137.2 253.0,138.7 264.7,139.4 275.0,138.0 285.0,135.0 294.0,132.0 300.0,130.0 308.6,128.5 320.3,124.0 335.0,116.7 349.5,110.9 354.6,109.5 369.2,106.6 378.0,108.0 389.6,111.7 402.8,116.0 416.0,122.0 423.2,128.5 433.4,139.4 445.0,151.0 456.0,160.8 467.7,170.4 480.0,176.0 489.0,180.0 511.0,183.4 536.7,186.0 552.0,184.0 562.0,181.7 575.8,175.8 589.5,170.7 600.0,165.5 611.0,160.0 636.0,140.0 656.0,127.5 670.0,114.6 690.0,93.5 705.4,77.7 710.0,74.2 729.7,60.4 749.3,62.3 767.8,63.9 778.6,67.8" fill="none" stroke="#efc24d" stroke-width="2.05" stroke-linejoin="round" stroke-linecap="round"/>
<polyline points="69.6,127.6 80.0,128.5 95.0,128.6 103.0,126.8 111.4,123.7 118.0,124.8 125.0,126.5 140.0,129.2 150.0,127.7 160.0,130.0 170.0,130.7 185.0,132.0 200.0,134.3 212.0,136.5 223.8,140.9 231.0,144.0 236.0,144.3 244.2,143.0 256.0,141.6 267.6,139.4 279.3,135.0 288.0,130.7 300.0,124.0 305.7,121.0 320.3,110.9 335.0,103.6 345.0,100.4 352.4,99.2 360.0,100.0 369.0,101.5 378.0,105.8 389.6,116.0 402.8,127.0 416.0,137.8 427.6,151.0 433.0,157.0 448.5,176.0 460.0,185.5 467.7,188.9 480.0,191.0 496.6,193.7 505.0,189.5 516.0,183.4 535.0,175.0 545.0,171.0 552.0,173.0 560.5,176.0 570.7,175.4 586.0,173.2 593.0,169.5 600.0,163.9 606.0,157.5 621.0,142.5 633.5,130.0 647.0,112.7 666.0,90.8 678.0,81.5 690.0,72.6 710.0,59.5 729.7,47.7 740.0,51.2 758.5,60.6 778.6,74.7" fill="none" stroke="#7b10c2" stroke-width="2.05" stroke-linejoin="round" stroke-linecap="round"/>
<line x1="42.5" x2="63" y1="19.5" y2="19.5" stroke="#7b10c2" stroke-width="2"/>
<text x="71" y="22.9" font-size="9.7" fill="#262626" font-family="Liberation Sans, Noto Sans CJK SC, sans-serif">20 ma</text>
<line x1="42.5" x2="63" y1="33.5" y2="33.5" stroke="#efc24d" stroke-width="2"/>
<text x="71" y="36.9" font-size="9.7" fill="#262626" font-family="Liberation Sans, Noto Sans CJK SC, sans-serif">30 ma</text>
<line x1="42.5" x2="63" y1="47.5" y2="47.5" stroke="#2196c6" stroke-width="2"/>
<text x="71" y="50.9" font-size="9.7" fill="#262626" font-family="Liberation Sans, Noto Sans CJK SC, sans-serif">60 ma</text>
<polygon points="59,63.5 193.5,63.5 193.5,57 212.5,75.2 193.5,93.2 193.5,87 59,87" fill="#ea6a7c" stroke="#e05a70" stroke-width="0.8"/>
<text x="62.9" y="79.8" font-size="14.8" fill="#222" font-family="Liberation Sans, Noto Sans CJK SC, sans-serif">【</text>
<text x="79.6" y="79.8" font-size="14.8" fill="#222" textLength="59.1" lengthAdjust="spacing" font-family="Liberation Sans, Noto Sans CJK SC, sans-serif">蛟龙出海</text>
<text x="141.4" y="79.8" font-size="14.8" fill="#222" font-family="Liberation Sans, Noto Sans CJK SC, sans-serif">】</text>
<text x="154" y="79.8" font-size="14.8" fill="#222" textLength="44.9" lengthAdjust="spacing" font-family="Liberation Sans, Noto Sans CJK SC, sans-serif">买入点</text>
<rect x="124" y="109.6" width="15.8" height="35.4" fill="#f07a8c" fill-opacity="0.55" stroke="#ea6a7c" stroke-width="2"/>
<rect x="126.6" y="112.3" width="10.4" height="6.9" fill="#f6f0f2"/>
<rect x="127.6" y="119.2" width="8.4" height="23.7" fill="#ec6d80"/>
<line x1="127" x2="127" y1="112" y2="143.5" stroke="#fbe3e7" stroke-width="0.9" stroke-dasharray="2.4,1.6"/>
<line x1="136.6" x2="136.6" y1="112" y2="143.5" stroke="#fbe3e7" stroke-width="0.9" stroke-dasharray="2.4,1.6"/>
<rect x="134" y="115.2" width="2.8" height="3.6" fill="none" stroke="#343a4c" stroke-width="0.9"/>
<polygon points="129.6,89 133,89 133,100 136,100 131.3,111.5 126.6,100 129.6,100" fill="#ea6a7c" stroke="#d9566b" stroke-width="0.6"/>
<polygon points="131.6,139.3 136.8,152 133.7,152 133.7,162.6 129.6,162.6 129.6,152 126.4,152" fill="#a8262c" stroke="#8e1c22" stroke-width="0.6"/>
<circle cx="794.3" cy="54.7" r="11.9" fill="#efc24d" stroke="#4a167a" stroke-width="1.4"/>
<text x="794.3" y="58.7" font-size="10.8" text-anchor="middle" fill="#2a1238" font-family="Liberation Sans, Noto Sans CJK SC, sans-serif">30</text>
<circle cx="794.3" cy="79.6" r="11.9" fill="#7b10c2" stroke="#4a167a" stroke-width="1.4"/>
<text x="794.3" y="83.6" font-size="10.8" text-anchor="middle" fill="#2a1238" font-family="Liberation Sans, Noto Sans CJK SC, sans-serif">20</text>
<circle cx="794.3" cy="105" r="11.9" fill="#2196c6" stroke="#4a167a" stroke-width="1.4"/>
<text x="794.3" y="109" font-size="10.8" text-anchor="middle" fill="#2a1238" font-family="Liberation Sans, Noto Sans CJK SC, sans-serif">60</text>
<rect x="34.5" y="274.5" width="781.0" height="223.0" fill="#fff" stroke="#cccccc" stroke-width="1"/>
<line x1="34.5" x2="815.5" y1="281.5" y2="281.5" stroke="#cccccc" stroke-width="1"/>
<text x="25.4" y="284.7" font-size="9.3" text-anchor="end" fill="#262626" font-family="Liberation Sans, Noto Sans CJK SC, sans-serif">42.8</text>
<line x1="34.5" x2="815.5" y1="319.5" y2="319.5" stroke="#cccccc" stroke-width="1"/>
<text x="25.4" y="322.7" font-size="9.3" text-anchor="end" fill="#262626" font-family="Liberation Sans, Noto Sans CJK SC, sans-serif">42.6</text>
<line x1="34.5" x2="815.5" y1="358.5" y2="358.5" stroke="#cccccc" stroke-width="1"/>
<text x="25.4" y="361.7" font-size="9.3" text-anchor="end" fill="#262626" font-family="Liberation Sans, Noto Sans CJK SC, sans-serif">42.4</text>
<line x1="34.5" x2="815.5" y1="396.5" y2="396.5" stroke="#cccccc" stroke-width="1"/>
<text x="25.4" y="399.7" font-size="9.3" text-anchor="end" fill="#262626" font-family="Liberation Sans, Noto Sans CJK SC, sans-serif">42.2</text>
<line x1="34.5" x2="815.5" y1="435.5" y2="435.5" stroke="#cccccc" stroke-width="1"/>
<text x="25.4" y="438.7" font-size="9.3" text-anchor="end" fill="#262626" font-family="Liberation Sans, Noto Sans CJK SC, sans-serif">42.0</text>
<line x1="34.5" x2="815.5" y1="473.5" y2="473.5" stroke="#cccccc" stroke-width="1"/>
<text x="25.4" y="476.7" font-size="9.3" text-anchor="end" fill="#262626" font-family="Liberation Sans, Noto Sans CJK SC, sans-serif">41.8</text>
<line x1="127.5" x2="127.5" y1="274.5" y2="497.5" stroke="#cccccc" stroke-width="1"/>
<text x="125.9" y="511" font-size="10" text-anchor="end" fill="#262626" font-family="Liberation Sans, Noto Sans CJK SC, sans-serif">2021-07-30 14:00</text>
<line x1="241.5" x2="241.5" y1="274.5" y2="497.5" stroke="#cccccc" stroke-width="1"/>
<text x="239.9" y="511" font-size="10" text-anchor="end" fill="#262626" font-family="Liberation Sans, Noto Sans CJK SC, sans-serif">2021-08-02 10:00</text>
<line x1="356.5" x2="356.5" y1="274.5" y2="497.5" stroke="#cccccc" stroke-width="1"/>
<text x="354.9" y="511" font-size="10" text-anchor="end" fill="#262626" font-family="Liberation Sans, Noto Sans CJK SC, sans-serif">2021-08-02 12:00</text>
<line x1="471.5" x2="471.5" y1="274.5" y2="497.5" stroke="#cccccc" stroke-width="1"/>
<text x="469.9" y="511" font-size="10" text-anchor="end" fill="#262626" font-family="Liberation Sans, Noto Sans CJK SC, sans-serif">2021-08-02 14:00</text>
<line x1="586.5" x2="586.5" y1="274.5" y2="497.5" stroke="#cccccc" stroke-width="1"/>
<text x="584.9" y="511" font-size="10" text-anchor="end" fill="#262626" font-family="Liberation Sans, Noto Sans CJK SC, sans-serif">2021-08-03 10:00</text>
<line x1="700.5" x2="700.5" y1="274.5" y2="497.5" stroke="#cccccc" stroke-width="1"/>
<text x="698.9" y="511" font-size="10" text-anchor="end" fill="#262626" font-family="Liberation Sans, Noto Sans CJK SC, sans-serif">2021-08-03 12:00</text>
<text x="813.9" y="511" font-size="10" text-anchor="end" fill="#262626" font-family="Liberation Sans, Noto Sans CJK SC, sans-serif">2021-08-03 14:00</text>
<circle cx="298.4" cy="391.5" r="4.8" fill="#111"/>
<circle cx="298.4" cy="419" r="4.2" fill="#111"/>
<circle cx="298.4" cy="376" r="2.6" fill="#111"/>
<circle cx="355.8" cy="390" r="4.8" fill="#111"/>
<circle cx="356.2" cy="419.7" r="3.5" fill="#111"/>
<circle cx="355.8" cy="384" r="2.6" fill="#111"/>
<circle cx="413.2" cy="388.5" r="4.8" fill="#111"/>
<circle cx="413.6" cy="418.7" r="3.5" fill="#111"/>
<circle cx="413.2" cy="391" r="2.6" fill="#111"/>
<circle cx="470.6" cy="387" r="4.8" fill="#111"/>
<circle cx="470.6" cy="416" r="4.2" fill="#111"/>
<circle cx="470.6" cy="400" r="2.6" fill="#111"/>
<circle cx="528.0" cy="385" r="4.8" fill="#111"/>
<circle cx="528.0" cy="410" r="4.2" fill="#111"/>
<circle cx="528.0" cy="408.5" r="2.6" fill="#111"/>
<circle cx="585.4" cy="383.5" r="4.8" fill="#111"/>
<circle cx="585.4" cy="402.5" r="4.2" fill="#111"/>
<circle cx="585.4" cy="411.5" r="2.6" fill="#111"/>
<circle cx="642.8" cy="381.5" r="4.8" fill="#111"/>
<circle cx="642.8" cy="391.5" r="4.2" fill="#111"/>
<circle cx="642.8" cy="408.5" r="2.6" fill="#111"/>
<circle cx="700.2" cy="380" r="4.8" fill="#111"/>
<circle cx="700.2" cy="382.5" r="4.2" fill="#111"/>
<circle cx="700.2" cy="407" r="2.6" fill="#111"/>
<rect x="276.4" y="413.2" width="44" height="11.400000000000034" fill="#ffb6c3" fill-opacity="1"/>
<line x1="298.4" x2="298.4" y1="400.4" y2="440.8" stroke="#ff9fb3" stroke-width="1.6"/>
<rect x="333.8" y="412.6" width="44" height="4.0" fill="#bdf6bd" fill-opacity="1"/>
<line x1="355.8" x2="355.8" y1="412.6" y2="416.6" stroke="#bdf6bd" stroke-width="1.6"/>
<rect x="391.2" y="372.5" width="44" height="42.5" fill="#ffb6c3" fill-opacity="1"/>
<line x1="413.2" x2="413.2" y1="372.5" y2="415" stroke="#ffb6c3" stroke-width="1.6"/>
<rect x="448.6" y="372.5" width="44" height="66.5" fill="#bdf6bd" fill-opacity="1"/>
<line x1="470.6" x2="470.6" y1="372.5" y2="439" stroke="#bdf6bd" stroke-width="1.6"/>
<rect x="563.4" y="302.5" width="44" height="56.0" fill="#ffb6c3" fill-opacity="1"/>
<line x1="585.4" x2="585.4" y1="302.5" y2="358.5" stroke="#ffd3db" stroke-width="1.6"/>
<rect x="620.8" y="303.5" width="44" height="9.0" fill="#bdf6bd" fill-opacity="1"/>
<line x1="642.8" x2="642.8" y1="282.5" y2="327.5" stroke="#a6f0a6" stroke-width="1.6"/>
<rect x="678.2" y="312.5" width="44" height="21.0" fill="#bdf6bd" fill-opacity="1"/>
<line x1="700.2" x2="700.2" y1="304" y2="355" stroke="#a6f0a6" stroke-width="1.6"/>
<rect x="735.6" y="333" width="44" height="1" fill="#ff9fb0" fill-opacity="1"/>
<line x1="757.6" x2="757.6" y1="316.5" y2="345" stroke="#ff9fb0" stroke-width="1.6"/>
<ellipse cx="529.5" cy="398.8" rx="113" ry="87.6" fill="#e0ffff" fill-opacity="0.68" stroke="#70747b" stroke-width="4.4"/>
<line x1="585.6" x2="585.6" y1="302.5" y2="358.5" stroke="#ff9db0" stroke-width="1.8"/>
<line x1="413.4" x2="413.4" y1="364" y2="373" stroke="#ff9db0" stroke-width="1.6"/>
<line x1="528" x2="528" y1="357" y2="480.5" stroke="#7a1a1a" stroke-width="1.4"/>
<rect x="506" y="358.5" width="44" height="120.5" fill="#a62a2a"/>
<polyline points="298.4,391.5 355.8,390.0 413.2,388.5 470.6,387.0 528.0,385.0 585.4,383.5 642.8,381.5 700.2,380.0 757.6,378.5" fill="none" stroke="#2196c6" stroke-width="1.9" stroke-linejoin="round" stroke-linecap="round"/>
<polyline points="298.4,419.0 355.8,417.5 413.2,416.5 470.6,416.0 528.0,410.0 585.4,402.5 642.8,391.5 700.2,382.5 757.6,375.0" fill="none" stroke="#efc24d" stroke-width="1.9" stroke-linejoin="round" stroke-linecap="round"/>
<polyline points="298.4,376.0 355.8,384.0 413.2,391.0 470.6,400.0 528.0,408.5 585.4,411.5 642.8,408.5 700.2,407.0 757.6,404.0" fill="none" stroke="#7b10c2" stroke-width="1.9" stroke-linejoin="round" stroke-linecap="round"/>
<circle cx="298.4" cy="376" r="2.4" fill="#1a0a2a"/>
<circle cx="355.8" cy="384" r="2.4" fill="#1a0a2a"/>
<circle cx="642.8" cy="408.5" r="2.4" fill="#1a0a2a"/>
<circle cx="700.2" cy="407" r="2.4" fill="#1a0a2a"/>
<line x1="42.5" x2="63" y1="287" y2="287" stroke="#7b10c2" stroke-width="2"/>
<text x="72.2" y="290.4" font-size="9.7" fill="#262626" font-family="Liberation Sans, Noto Sans CJK SC, sans-serif">MA20</text>
<line x1="42.5" x2="63" y1="301" y2="301" stroke="#efc24d" stroke-width="2"/>
<text x="72.2" y="304.4" font-size="9.7" fill="#262626" font-family="Liberation Sans, Noto Sans CJK SC, sans-serif">MA30</text>
<line x1="42.5" x2="63" y1="315" y2="315" stroke="#2196c6" stroke-width="2"/>
<text x="72.2" y="318.4" font-size="9.7" fill="#262626" font-family="Liberation Sans, Noto Sans CJK SC, sans-serif">MA60</text>
<g transform="translate(426,270.5) rotate(38.3)"><polygon points="0,-1.4 109,-1.4 109,-5 121,0 109,5 109,1.4 0,1.4" fill="#ea6a7c" stroke="#7a6a72" stroke-width="0.9"/></g>
<rect x="134" y="237" width="559" height="28.5" rx="6" ry="6" fill="#ef6f83" stroke="#4b0a96" stroke-width="2"/>
<text x="139.6" y="258" font-size="16.4" fill="#141414" textLength="36.5" lengthAdjust="spacing" font-family="Liberation Sans, Noto Sans CJK SC, sans-serif">2021</text>
<text x="190.7" y="258" font-size="16.4" fill="#141414" textLength="18.2" lengthAdjust="spacing" font-family="Liberation Sans, Noto Sans CJK SC, sans-serif">08</text>
<text x="223.5" y="258" font-size="16.4" fill="#141414" textLength="18.2" lengthAdjust="spacing" font-family="Liberation Sans, Noto Sans CJK SC, sans-serif">03</text>
<text x="245.4" y="258" font-size="16.4" fill="#141414" textLength="65.7" lengthAdjust="spacing" font-family="Liberation Sans, Noto Sans CJK SC, sans-serif">09:00:00</text>
<text x="317.3" y="258" font-size="16.4" fill="#141414" textLength="18.2" lengthAdjust="spacing" font-family="Liberation Sans, Noto Sans CJK SC, sans-serif">20</text>
<text transform="translate(184.3,258) scale(2.3,1)" x="0" y="0" font-size="16.4" text-anchor="middle" fill="#141414" font-family="Liberation Sans, Noto Sans CJK SC, sans-serif">-</text>
<text transform="translate(217.2,258) scale(2.3,1)" x="0" y="0" font-size="16.4" text-anchor="middle" fill="#141414" font-family="Liberation Sans, Noto Sans CJK SC, sans-serif">-</text>
<text x="335.2" y="258" font-size="15.6" fill="#141414" textLength="207.2" lengthAdjust="spacing" font-family="Liberation Sans, Noto Sans CJK SC, sans-serif">小时,30小时,60小时均线形成</text>
<text x="539.6" y="258" font-size="15.6" fill="#141414" font-family="Liberation Sans, Noto Sans CJK SC, sans-serif">【</text>
<text x="560.6" y="258" font-size="15.6" fill="#141414" textLength="62" lengthAdjust="spacing" font-family="Liberation Sans, Noto Sans CJK SC, sans-serif">蛟龙出海</text>
<text x="626" y="258" font-size="15.6" fill="#141414" font-family="Liberation Sans, Noto Sans CJK SC, sans-serif">】</text>
<text x="640.9" y="258" font-size="15.6" fill="#141414" textLength="45.6" lengthAdjust="spacing" font-family="Liberation Sans, Noto Sans CJK SC, sans-serif">买入点</text>
<g id="surf">
<!-- overall silhouette in light blue -->
<path d="M44.5,431 C44,424 46,418 50,416.5 C58,414.5 70,417 84,424 C92,429 100,440 109,450 C118,458 130,465 144,471 C158,475 172,476.5 186,476 C200,475 214,470 226,464 L236,446 C226,450 210,452 196,452 L174,441 C186,437 200,428 210,414 C222,400 236,384 258.7,368.8 C265,372 268.6,382 268.6,390 C268,396 265,399 263.6,401 C264,412 262,424 258.6,431 C256,437 251,441 246,444 L252,447 C258,446 264,446 267.6,448 C270,454 267,458 262,461 C250,468 232,475 212,480 C190,484 160,485 128,484 C108,484 94,483 86,479 C78,475 70,470 64.4,464 C66,462 66,461 66,460.5 C58,458 51,452 47,445 C45,440 44.5,436 44.5,431 Z" fill="#a9d9ea"/>
<!-- left wave body -->
<path d="M46,433 C46,427 48,423 52,422 C60,421 72,426 82,432 C90,438 98,446 106,453 C116,461 128,467 142,472 C156,476 172,478 188,477 C204,476 218,471 230,465 L262,452 C266,453 266,456 262,459 C250,466 232,473 212,478 C190,482 160,483 128,482 C108,482 96,481 88,477 C80,473 72,469 67,464 C68,462 67.6,460.5 66,459.6 C58,457 52,451 48,445 C46.6,441 46,437 46,433 Z" fill="#4ea6cb"/>
<!-- dark strands of the left wave -->
<path d="M49,436 C50,429 54,426 58,428 C56,434 58,442 64,450 C70,456 78,461 86,464 C80,465 72,462 66,458 C56,452 50,444 49,436 Z" fill="#2a86b0"/>
<path d="M61,430 C64,427 68,428 71,431 C70,438 74,446 82,453 C90,460 100,465 112,468 C104,470 94,468 86,463 C74,456 64,444 61,430 Z" fill="#2a86b0"/>
<path d="M76,436 C79,434 82,435 85,438 C86,444 92,452 100,458 C110,465 124,470 140,473 C128,475 114,473 102,467 C90,461 80,450 76,436 Z" fill="#2a86b0"/>
<path d="M92,448 C100,458 116,468 136,473 C160,478 186,478 206,474 C186,481 150,482 124,478 C108,475 96,464 92,448 Z" fill="#2a86b0"/>
<path d="M70,467 C80,475 94,480 112,481 C140,483 176,482 204,478 C224,475 242,468 260,458 C246,470 224,477 204,481 C176,485 130,485 104,483 C90,482 78,476 70,467 Z" fill="#1f749c"/>
<path d="M120,474 C150,481 190,479 222,468" fill="none" stroke="#a9d9ea" stroke-width="1.2" opacity="0.8"/>
<path d="M100,470 C130,480 170,481 200,477" fill="none" stroke="#a9d9ea" stroke-width="0.8" opacity="0.6"/>
<circle cx="54.4" cy="421.2" r="2.5" fill="#b4dfee"/><circle cx="60.7" cy="423.5" r="2.5" fill="#b4dfee"/><circle cx="67.3" cy="424.0" r="2.8" fill="#b4dfee"/><circle cx="74.5" cy="425.2" r="2.7" fill="#b4dfee"/><circle cx="79.4" cy="428.9" r="1.8" fill="#b4dfee"/><circle cx="84.8" cy="432.2" r="2.6" fill="#b4dfee"/><circle cx="90.4" cy="436.1" r="2.8" fill="#b4dfee"/><circle cx="93.5" cy="440.2" r="2.3" fill="#b4dfee"/><circle cx="99.2" cy="446.4" r="2.8" fill="#b4dfee"/><circle cx="103.6" cy="451.7" r="2.7" fill="#b4dfee"/><circle cx="108.0" cy="454.6" r="2.6" fill="#b4dfee"/><circle cx="113.2" cy="459.6" r="2.0" fill="#b4dfee"/><circle cx="118.9" cy="462.5" r="1.9" fill="#b4dfee"/><circle cx="124.4" cy="466.7" r="2.7" fill="#b4dfee"/><circle cx="131.5" cy="469.8" r="2.3" fill="#b4dfee"/><circle cx="136.5" cy="473.1" r="2.7" fill="#b4dfee"/><circle cx="47.1" cy="420.9" r="2.7" fill="#c9e8f3"/><circle cx="51.6" cy="420.3" r="2.3" fill="#c9e8f3"/><circle cx="56.9" cy="419.7" r="2.2" fill="#c9e8f3"/><circle cx="61.3" cy="419.9" r="2.8" fill="#c9e8f3"/><circle cx="66.6" cy="420.1" r="2.8" fill="#c9e8f3"/><circle cx="70.2" cy="421.5" r="2.8" fill="#c9e8f3"/><circle cx="75.1" cy="423.3" r="3.1" fill="#c9e8f3"/><circle cx="80.3" cy="424.5" r="3.1" fill="#c9e8f3"/><circle cx="83.9" cy="426.0" r="2.9" fill="#c9e8f3"/><circle cx="86.9" cy="429.5" r="3.0" fill="#c9e8f3"/><circle cx="90.9" cy="433.3" r="2.7" fill="#c9e8f3"/><circle cx="94.0" cy="436.0" r="3.2" fill="#c9e8f3"/><circle cx="97.1" cy="440.5" r="2.8" fill="#c9e8f3"/><circle cx="98.7" cy="443.2" r="2.2" fill="#c9e8f3"/><circle cx="102.3" cy="445.7" r="2.1" fill="#c9e8f3"/><circle cx="106.7" cy="450.3" r="2.9" fill="#c9e8f3"/><circle cx="110.0" cy="453.0" r="2.2" fill="#c9e8f3"/><circle cx="114.0" cy="456.4" r="2.2" fill="#c9e8f3"/><circle cx="117.8" cy="458.2" r="2.3" fill="#c9e8f3"/><circle cx="121.6" cy="461.7" r="2.7" fill="#c9e8f3"/><circle cx="124.6" cy="463.5" r="2.2" fill="#c9e8f3"/><circle cx="128.2" cy="465.5" r="2.5" fill="#c9e8f3"/><circle cx="132.0" cy="468.0" r="3.0" fill="#c9e8f3"/><circle cx="136.1" cy="469.7" r="2.6" fill="#c9e8f3"/><circle cx="47.0" cy="417.2" r="3.2" fill="#e6f5fa"/><circle cx="51.6" cy="417.7" r="3.8" fill="#e6f5fa"/><circle cx="54.8" cy="415.3" r="2.4" fill="#e6f5fa"/><circle cx="59.1" cy="416.0" r="3.4" fill="#e6f5fa"/><circle cx="64.4" cy="418.0" r="2.9" fill="#e6f5fa"/><circle cx="67.2" cy="419.2" r="2.6" fill="#e6f5fa"/><circle cx="72.3" cy="418.8" r="3.1" fill="#e6f5fa"/><circle cx="76.4" cy="420.7" r="2.3" fill="#e6f5fa"/><circle cx="80.9" cy="422.3" r="2.3" fill="#e6f5fa"/><circle cx="83.1" cy="424.6" r="3.5" fill="#e6f5fa"/><circle cx="87.3" cy="427.1" r="2.3" fill="#e6f5fa"/><circle cx="89.5" cy="431.1" r="2.7" fill="#e6f5fa"/><circle cx="91.6" cy="433.6" r="2.6" fill="#e6f5fa"/><circle cx="94.4" cy="436.1" r="2.6" fill="#e6f5fa"/><circle cx="97.5" cy="439.5" r="2.3" fill="#e6f5fa"/><circle cx="101.5" cy="442.5" r="2.7" fill="#e6f5fa"/><circle cx="103.7" cy="445.4" r="3.0" fill="#e6f5fa"/><circle cx="107.0" cy="447.7" r="2.2" fill="#e6f5fa"/><circle cx="110.8" cy="450.7" r="3.4" fill="#e6f5fa"/><circle cx="114.8" cy="453.2" r="3.0" fill="#e6f5fa"/><circle cx="117.3" cy="456.5" r="3.5" fill="#e6f5fa"/><circle cx="120.8" cy="458.9" r="3.5" fill="#e6f5fa"/><circle cx="125.5" cy="460.8" r="3.3" fill="#e6f5fa"/><circle cx="128.7" cy="463.4" r="3.5" fill="#e6f5fa"/><circle cx="131.9" cy="464.3" r="2.8" fill="#e6f5fa"/><circle cx="135.2" cy="467.4" r="2.4" fill="#e6f5fa"/>
<!-- fill between right wave and bottom swoosh -->
<path d="M176,446 C196,452 226,452 244,444 L258,448 C250,456 236,464 222,470 C206,476 190,478 176,477 C186,470 190,460 176,446 Z" fill="#4ea6cb"/>
<path d="M190,456 C206,460 228,458 246,450 C238,460 222,468 204,472 C198,468 194,462 190,456 Z" fill="#2a86b0"/>
<!-- right big wave body -->
<path d="M176,446 C192,438 206,430 216,418 C226,406 230,398 236,392 C242,388 248,388 254,386 C260,388 264,394 264,400 C264,412 262,424 258,431 C254,438 246,443 236,446 C220,452 196,453 176,446 Z" fill="#4ea6cb"/>
<path d="M200,446 C214,438 226,424 234,410 C240,398 246,392 254,390 C260,392 263,398 262.6,406 C262,418 259,428 254,434 C246,442 232,448 218,449 C210,449.6 204,448 200,446 Z" fill="#2a86b0"/>
<path d="M224,442 C236,432 244,418 249,404 C251,398 254,395 257,394 C260,400 260,410 258,419 C255,430 248,438 238,442 C233,443.6 228,443.6 224,442 Z" fill="#1f749c"/>
<path d="M210,445 C224,436 236,420 243,402" fill="none" stroke="#a9d9ea" stroke-width="1.3" opacity="0.85"/>
<path d="M190,447 C206,440 220,428 230,410" fill="none" stroke="#a9d9ea" stroke-width="1.1" opacity="0.7"/>
<path d="M234,443 C244,434 250,420 253,406" fill="none" stroke="#4ea6cb" stroke-width="1.1" opacity="0.9"/>
<circle cx="239.0" cy="390.4" r="2.2" fill="#b4dfee"/><circle cx="234.5" cy="393.1" r="1.9" fill="#b4dfee"/><circle cx="232.0" cy="398.1" r="1.9" fill="#b4dfee"/><circle cx="227.4" cy="403.4" r="2.3" fill="#b4dfee"/><circle cx="224.0" cy="407.0" r="2.3" fill="#b4dfee"/><circle cx="219.3" cy="414.0" r="2.1" fill="#b4dfee"/><circle cx="216.2" cy="420.2" r="2.5" fill="#b4dfee"/><circle cx="213.4" cy="423.4" r="1.9" fill="#b4dfee"/><circle cx="206.9" cy="428.3" r="2.0" fill="#b4dfee"/><circle cx="201.8" cy="432.9" r="2.8" fill="#b4dfee"/><circle cx="196.4" cy="435.7" r="2.6" fill="#b4dfee"/><circle cx="189.7" cy="437.7" r="1.9" fill="#b4dfee"/><circle cx="185.2" cy="441.8" r="2.6" fill="#b4dfee"/><circle cx="179.9" cy="445.4" r="2.5" fill="#b4dfee"/><circle cx="246.2" cy="381.6" r="3.7" fill="#c9e8f3"/><circle cx="242.2" cy="385.2" r="3.3" fill="#c9e8f3"/><circle cx="238.0" cy="387.6" r="3.6" fill="#c9e8f3"/><circle cx="234.8" cy="389.2" r="2.6" fill="#c9e8f3"/><circle cx="231.4" cy="389.6" r="2.6" fill="#c9e8f3"/><circle cx="230.5" cy="394.5" r="3.5" fill="#c9e8f3"/><circle cx="228.3" cy="398.8" r="3.8" fill="#c9e8f3"/><circle cx="226.5" cy="401.3" r="3.4" fill="#c9e8f3"/><circle cx="223.9" cy="403.6" r="3.7" fill="#c9e8f3"/><circle cx="218.2" cy="406.4" r="3.5" fill="#c9e8f3"/><circle cx="217.8" cy="409.5" r="3.4" fill="#c9e8f3"/><circle cx="214.8" cy="413.0" r="2.9" fill="#c9e8f3"/><circle cx="213.4" cy="415.7" r="2.4" fill="#c9e8f3"/><circle cx="209.9" cy="420.4" r="2.6" fill="#c9e8f3"/><circle cx="207.5" cy="422.5" r="2.6" fill="#c9e8f3"/><circle cx="204.3" cy="425.7" r="3.8" fill="#c9e8f3"/><circle cx="203.2" cy="429.4" r="3.3" fill="#c9e8f3"/><circle cx="198.1" cy="430.3" r="3.8" fill="#c9e8f3"/><circle cx="195.8" cy="433.5" r="3.0" fill="#c9e8f3"/><circle cx="190.4" cy="433.6" r="2.6" fill="#c9e8f3"/><circle cx="187.5" cy="436.4" r="2.8" fill="#c9e8f3"/><circle cx="182.9" cy="438.3" r="2.8" fill="#c9e8f3"/><circle cx="180.8" cy="441.9" r="3.0" fill="#c9e8f3"/><circle cx="177.2" cy="443.5" r="3.5" fill="#c9e8f3"/><circle cx="257.6" cy="370.0" r="3.8" fill="#e6f5fa"/><circle cx="256.2" cy="371.7" r="4.0" fill="#e6f5fa"/><circle cx="251.6" cy="372.0" r="3.2" fill="#e6f5fa"/><circle cx="247.4" cy="374.0" r="3.7" fill="#e6f5fa"/><circle cx="244.4" cy="376.8" r="2.8" fill="#e6f5fa"/><circle cx="240.7" cy="378.5" r="2.5" fill="#e6f5fa"/><circle cx="238.1" cy="380.2" r="2.6" fill="#e6f5fa"/><circle cx="235.3" cy="382.5" r="4.1" fill="#e6f5fa"/><circle cx="231.3" cy="385.1" r="2.9" fill="#e6f5fa"/><circle cx="229.2" cy="388.7" r="2.6" fill="#e6f5fa"/><circle cx="226.7" cy="389.9" r="3.3" fill="#e6f5fa"/><circle cx="225.3" cy="394.1" r="2.6" fill="#e6f5fa"/><circle cx="222.9" cy="396.7" r="4.1" fill="#e6f5fa"/><circle cx="220.4" cy="399.1" r="4.3" fill="#e6f5fa"/><circle cx="215.9" cy="402.1" r="3.5" fill="#e6f5fa"/><circle cx="214.7" cy="404.8" r="4.4" fill="#e6f5fa"/><circle cx="212.1" cy="407.2" r="2.9" fill="#e6f5fa"/><circle cx="211.0" cy="412.4" r="3.9" fill="#e6f5fa"/><circle cx="208.3" cy="415.8" r="3.1" fill="#e6f5fa"/><circle cx="207.2" cy="418.7" r="4.4" fill="#e6f5fa"/><circle cx="204.3" cy="420.3" r="4.0" fill="#e6f5fa"/><circle cx="200.7" cy="422.7" r="3.4" fill="#e6f5fa"/><circle cx="197.3" cy="425.5" r="2.5" fill="#e6f5fa"/><circle cx="195.4" cy="427.7" r="3.8" fill="#e6f5fa"/><circle cx="191.9" cy="430.7" r="4.3" fill="#e6f5fa"/><circle cx="186.6" cy="430.7" r="3.1" fill="#e6f5fa"/><circle cx="183.1" cy="433.6" r="2.8" fill="#e6f5fa"/><circle cx="181.3" cy="435.5" r="4.2" fill="#e6f5fa"/><circle cx="178.0" cy="436.8" r="3.7" fill="#e6f5fa"/><circle cx="175.0" cy="440.7" r="3.7" fill="#e6f5fa"/>
<!-- crest light cap -->
<path d="M246,380 C250,374 254,371 258.7,368.8 C265,372 268.6,382 268.6,390 C268,396 265,399 263.6,401 C262,394 258,389 254,387 C250,386 247,384 246,380 Z" fill="#a9d9ea"/>
<!-- small second wave bottom right -->
<path d="M206,478 C224,474 240,466 252,458 C258,454 262,452 266,452.6 C267,456 264,459 259,462 C246,469 228,476 206,480 Z" fill="#2a86b0"/>
<path d="M240,462 C246,454 256,447 267,448 C262,445 254,446 248,450 C243,454 241,458 240,462 Z" fill="#d6eef6"/>
<circle cx="232" cy="447" r="1.7" fill="#fff"/><circle cx="239" cy="450" r="1.4" fill="#fff"/><circle cx="249" cy="444" r="1.3" fill="#fff"/><circle cx="226" cy="451" r="1.1" fill="#fff"/>
<circle cx="246" cy="369" r="0.8" fill="#a9d9ea"/><circle cx="240" cy="372" r="0.7" fill="#a9d9ea"/><circle cx="252" cy="364" r="0.6" fill="#a9d9ea"/><circle cx="233" cy="380" r="0.8" fill="#a9d9ea"/><circle cx="221" cy="392" r="0.7" fill="#a9d9ea"/><circle cx="216" cy="398" r="0.6" fill="#a9d9ea"/><circle cx="206" cy="407" r="0.8" fill="#a9d9ea"/><circle cx="196" cy="420" r="0.7" fill="#a9d9ea"/><circle cx="188" cy="426" r="0.6" fill="#a9d9ea"/><circle cx="60" cy="412" r="0.9" fill="#a9d9ea"/><circle cx="66" cy="411" r="0.7" fill="#a9d9ea"/><circle cx="74" cy="414" r="0.8" fill="#a9d9ea"/><circle cx="80" cy="417" r="0.6" fill="#a9d9ea"/><circle cx="52" cy="412" r="0.6" fill="#a9d9ea"/>
<path d="M112,448 C126,460 146,470 170,475 C186,478 204,476 214,470 L212,466 C190,470 150,462 112,448 Z" fill="#4ea6cb"/>
<path d="M96,432 C120,440 160,452 212,468 C212,475 200,480 184,479 C156,478 130,468 112,454 C104,447 99,439 96,432 Z" fill="#4ea6cb"/>
<path d="M118,456 C136,468 160,475 188,477" fill="none" stroke="#a9d9ea" stroke-width="1.6" opacity="0.9"/>
<!-- surfboard -->
<path d="M89,428.5 C112,432 150,445 176,455 C194,462 206,465 212.5,468 C211,473.5 200,476 186,475 C160,473 134,462 117,450 C104,441 95,433 89,428.5 Z" fill="#c6ccd2" stroke="#8d959c" stroke-width="0.7"/>
<path d="M89,428.5 C112,432 150,445 176,455 C194,462 206,465 212.5,468 C209,472 198,473.4 186,472 C160,469.4 134,459.4 117,448.4 C104,440 95,433 89,428.5 Z" fill="#f8f8f5"/>
<path d="M94,430.5 C130,441 170,456 208,468" fill="none" stroke="#c98f5e" stroke-width="0.8"/>
</g>
<g id="dog" stroke="#2b2b2b" stroke-width="0.9" stroke-linejoin="round" stroke-linecap="round">
<path d="M122.5,377 C119,370 116.5,362 117.6,355 C118,353.4 119.6,353.6 120,355.4 C120.6,362 123,368 127,373 Z" fill="#fbfaf4"/>
<path d="M145.4,419 L147.4,443.6 C147,447 150,448 154.6,447.2 C156.8,446.6 156.6,444.6 155,443.8 L155.6,419 Z" fill="#f3efe4"/>
<path d="M147,356 C139,361 128,368 122,376 C116,384 114,394 115,404 L118.4,440 C117.6,443.8 119.6,445.4 123,444.8 L126.4,444 C127.6,443 127.2,441.6 126.2,440.6 L128,410 C129,414 130,416 131,417.6 L134,449.6 C133,454.4 136,456 141.6,455 C144.6,454.4 145,452 143.8,450.4 L143.4,420 C148,423.4 156,422.6 160.6,418 L163.4,449.8 C162.6,454.6 166.4,456 172.4,454.6 C175,453.8 175,451.4 173.6,450.2 L175.4,404 C178.6,394 181,382 178.4,369 C177.6,363 176.6,360 175.6,357 Z" fill="#fbfaf4"/>
<path d="M150,372 C152,380 156,386 160,389" fill="none" stroke-width="0.6"/>
<path d="M166,372 C165,380 163,386 160,389" fill="none" stroke-width="0.6"/>
<path d="M128,410 C126.6,402 127,395 129,389" fill="none" stroke-width="0.6"/>
<path d="M175.4,404 C173,397 172.6,391 173.4,385" fill="none" stroke-width="0.6"/>
<path d="M150.4,329 C152,321.6 159,318.6 166,319 C174,319.2 181,322 184.4,328 C188,334 189,341 188.4,347 C188.6,352.6 186.6,357 182.6,359.4 C177.6,362.4 170,362.4 165,359.6 C158,356.6 152,350 150.4,344 Z" fill="#fbfaf4"/>
<path d="M173,352 C176,357 182,358 186,354 C187.4,350 187,346 185,344 C181,348 176,350 173,352 Z" fill="#d9cfc4" stroke="none"/>
<path d="M181.6,324.6 C187,328 192,336 191.4,343 C191,347.6 188.6,350 187,349 C186,343 185,334 181.6,324.6 Z" fill="#fbfaf4"/>
<path d="M152,324.6 C143,327 133,335 131.8,342 C132.6,350 140,356 148.4,357.6 C150,351 149.6,337 152,324.6 Z" fill="#fbfaf4"/>
<ellipse cx="162.9" cy="334.6" rx="1.7" ry="2.3" fill="#111" stroke="none"/>
<ellipse cx="179.6" cy="333.6" rx="1.5" ry="2.2" fill="#111" stroke="none"/>
<path d="M175.4,341.6 C178,339.6 184,339.4 186.4,341.4 C186.4,345 183.6,348.6 181.4,349 C178.6,348.6 175.6,345 175.4,341.6 Z" fill="#1a1214" stroke="none"/>
<path d="M165.4,357 C171,359.4 178,357.6 181.4,352.6 L181.4,349" fill="none" stroke-width="0.8"/>
<path d="M181.4,352.6 C183.4,354.6 185.6,354.6 187,352.6" fill="none" stroke-width="0.8"/>
</g>
<g id="horns" stroke-linecap="round" stroke-linejoin="round" fill="none">
<!-- yellow spikes left (above the horn) -->
<path d="M131.6,305 L135.6,291.6 L142,303.6 Z M141.6,304.6 L146.6,297.6 L151,307 Z M149.6,309 L155,299.8 L157.4,312.6 Z M153.4,316 L159.6,312 L159,321.6 Z M124,305.6 L128.8,299.6 L132.6,305.4 Z M118,306 L121.4,301.6 L124.6,306 Z" fill="#f3d78c" stroke="#7a5a34" stroke-width="0.6"/>
<!-- purple ragged spikes under the left horn -->
<path d="M110,306 L106.6,310 L112,311 Z M113.4,311 L112.4,317 L118.6,313.6 Z M120,313 L121.6,318.6 L126.4,313.6 Z M127.6,312.4 L129.6,319.6 L134,312.6 Z M135,312.4 L138.6,318.6 L141,313.4 Z M141,314.6 L145,320 L146.4,315.6 Z M109.6,300 L105.6,302 L110,304.6 Z M146,318 L148,324 L150.6,319 Z" fill="#7d3daa" stroke="#3e2352" stroke-width="0.6"/>
<path d="M152,323 C150.6,315.6 146.4,311 139.4,309 C131,307 123,311.4 117.6,310.4 C113.8,309.2 112.6,306.4 113.2,303.4" stroke="#3e2352" stroke-width="10.6"/>
<path d="M152,323 C150.6,315.6 146.4,311 139.4,309 C131,307 123,311.4 117.6,310.4 C113.8,309.2 112.6,306.4 113.2,303.4" stroke="#9a52c6" stroke-width="9.2"/>
<path d="M150.6,317 C148.4,311.6 144.4,308.6 138.6,307 C131,305.6 123,309 117.4,307.4" stroke="#c08ade" stroke-width="3" stroke-dasharray="1.6,1.8" stroke-linecap="butt"/>
<path d="M119.8,279 C119.4,276.4 115,275.2 108.7,274.6" stroke="#4a2a30" stroke-width="3.4"/>
<path d="M113,301 C113,295 115.6,291 118,287 C120.6,283 121.2,281 120,278.6" stroke="#4a2a30" stroke-width="5.8"/>
<path d="M119.8,279 C119.4,276.4 115,275.2 108.7,274.6" stroke="#f2a7aa" stroke-width="2.2"/>
<path d="M113,301 C113,295 115.6,291 118,287 C120.6,283 121.2,281 120,278.6" stroke="#f2a7aa" stroke-width="4.6"/>
<path d="M113,301 C113,295 115.6,291 118,287 C120.6,283 121.6,280 119.4,277.4" stroke="#d98890" stroke-width="4.6" stroke-dasharray="0.7,2.4" stroke-linecap="butt"/>
<!-- right horn -->
<path d="M163.6,318.6 L166.2,304.8 L169.6,311 L171.6,301.6 L174.6,307 L174.4,295 L178.6,303.6 L179.4,297.6 L183.6,306.6 L181,314 L172,320 Z" fill="#f3d78c" stroke="#6a4a2c" stroke-width="0.6"/>
<path d="M169,314 L171,308 M173.6,311 L175.6,303 M178,308.6 L179.6,302.6" stroke="#d9a860" stroke-width="0.7"/>
<path d="M190,315 L196.6,317.6 L194.6,311.6 Z M195,311 L199.6,309.6 L195.6,306.6 Z M184,316.6 L187,322 L190,316 Z M179,318 L182,323 L184.6,317 Z" fill="#7d3daa" stroke="#3e2352" stroke-width="0.6"/>
<path d="M177,321.6 C177.6,317 181,314.6 186,313.8 C190,313.2 193,311.8 194.2,309.4" stroke="#3e2352" stroke-width="9.6"/>
<path d="M177,321.6 C177.6,317 181,314.6 186,313.8 C190,313.2 193,311.8 194.2,309.4" stroke="#9a52c6" stroke-width="8.2"/>
<path d="M179,317.6 C181,315 184,313.6 188,312.6" stroke="#c08ade" stroke-width="2.6" stroke-dasharray="1.4,1.8" stroke-linecap="butt"/>
<path d="M177.1,281.5 C179.6,278.6 183,277.4 184,275" stroke="#4a2a30" stroke-width="3.4"/>
<path d="M190.2,309.6 C190.8,302.6 186.6,298.6 182.3,295.4 C177.6,291.6 175.4,286.6 177.1,281.5" stroke="#4a2a30" stroke-width="5.8"/>
<path d="M177.1,281.5 C179.6,278.6 183,277.4 184,275" stroke="#f2a7aa" stroke-width="2.2"/>
<path d="M190.2,309.6 C190.8,302.6 186.6,298.6 182.3,295.4 C177.6,291.6 175.4,286.6 177.1,281.5" stroke="#f2a7aa" stroke-width="4.6"/>
<path d="M190.2,309.6 C190.8,302.6 186.6,298.6 182.3,295.4 C177.6,291.6 175.4,286.6 177.1,281.5" stroke="#d98890" stroke-width="4.6" stroke-dasharray="0.7,2.4" stroke-linecap="butt"/>
</g>
<g id="dragon" fill="none" stroke-linecap="round" stroke-linejoin="round">
<path d="M777.7,359.7 C776.7,358.1 774.4,352.4 772.1,350.5 C769.8,348.5 767.1,347.9 763.8,347.9 C760.6,347.9 755.4,348.3 752.8,350.5 C750.1,352.6 748.3,357.2 748.0,360.6 C747.7,364.0 748.6,368.6 750.9,371.1 C753.3,373.7 757.8,375.4 762.0,375.9 C766.1,376.4 771.7,373.7 775.8,374.1 C780.0,374.4 784.5,376.2 786.9,378.1 C789.3,380.0 790.3,383.2 790.0,385.5 C789.7,387.8 787.9,390.5 785.0,392.0 C782.2,393.4 777.2,394.2 773.1,394.0 C768.9,393.8 763.8,391.1 760.1,390.7 C756.5,390.2 753.2,390.4 751.3,391.4 C749.4,392.5 748.4,395.0 748.7,396.9 C749.0,398.9 750.3,402.2 753.1,403.2 C756.0,404.3 761.3,403.8 765.7,403.2 C770.1,402.6 775.8,399.3 779.5,399.5 C783.2,399.8 786.1,402.6 787.8,404.7 C789.5,406.8 790.3,410.0 789.7,412.3 C789.0,414.5 786.9,416.9 784.1,418.3 C781.4,419.8 776.7,421.0 773.1,420.9 C769.4,420.9 764.9,419.3 762.0,418.0 C759.1,416.7 756.6,414.0 755.5,413.2" stroke="#2a5f9e" stroke-width="10.4" stroke-dasharray="1.1,1.5" stroke-linecap="butt"/>
<path d="M777.7,359.7 C776.7,358.1 774.4,352.4 772.1,350.5 C769.8,348.5 767.1,347.9 763.8,347.9 C760.6,347.9 755.4,348.3 752.8,350.5 C750.1,352.6 748.3,357.2 748.0,360.6 C747.7,364.0 748.6,368.6 750.9,371.1 C753.3,373.7 757.8,375.4 762.0,375.9 C766.1,376.4 771.7,373.7 775.8,374.1 C780.0,374.4 784.5,376.2 786.9,378.1 C789.3,380.0 790.3,383.2 790.0,385.5 C789.7,387.8 787.9,390.5 785.0,392.0 C782.2,393.4 777.2,394.2 773.1,394.0 C768.9,393.8 763.8,391.1 760.1,390.7 C756.5,390.2 753.2,390.4 751.3,391.4 C749.4,392.5 748.4,395.0 748.7,396.9 C749.0,398.9 750.3,402.2 753.1,403.2 C756.0,404.3 761.3,403.8 765.7,403.2 C770.1,402.6 775.8,399.3 779.5,399.5 C783.2,399.8 786.1,402.6 787.8,404.7 C789.5,406.8 790.3,410.0 789.7,412.3 C789.0,414.5 786.9,416.9 784.1,418.3 C781.4,419.8 776.7,421.0 773.1,420.9 C769.4,420.9 764.9,419.3 762.0,418.0 C759.1,416.7 756.6,414.0 755.5,413.2" stroke="#1c4a82" stroke-width="8.4"/>
<path d="M777.7,359.7 C776.7,358.1 774.4,352.4 772.1,350.5 C769.8,348.5 767.1,347.9 763.8,347.9 C760.6,347.9 755.4,348.3 752.8,350.5 C750.1,352.6 748.3,357.2 748.0,360.6 C747.7,364.0 748.6,368.6 750.9,371.1 C753.3,373.7 757.8,375.4 762.0,375.9 C766.1,376.4 771.7,373.7 775.8,374.1 C780.0,374.4 784.5,376.2 786.9,378.1 C789.3,380.0 790.3,383.2 790.0,385.5 C789.7,387.8 787.9,390.5 785.0,392.0 C782.2,393.4 777.2,394.2 773.1,394.0 C768.9,393.8 763.8,391.1 760.1,390.7 C756.5,390.2 753.2,390.4 751.3,391.4 C749.4,392.5 748.4,395.0 748.7,396.9 C749.0,398.9 750.3,402.2 753.1,403.2 C756.0,404.3 761.3,403.8 765.7,403.2 C770.1,402.6 775.8,399.3 779.5,399.5 C783.2,399.8 786.1,402.6 787.8,404.7 C789.5,406.8 790.3,410.0 789.7,412.3 C789.0,414.5 786.9,416.9 784.1,418.3 C781.4,419.8 776.7,421.0 773.1,420.9 C769.4,420.9 764.9,419.3 762.0,418.0 C759.1,416.7 756.6,414.0 755.5,413.2" stroke="#3573b8" stroke-width="6.8"/>
<path d="M777.7,359.7 C776.7,358.1 774.4,352.4 772.1,350.5 C769.8,348.5 767.1,347.9 763.8,347.9 C760.6,347.9 755.4,348.3 752.8,350.5 C750.1,352.6 748.3,357.2 748.0,360.6 C747.7,364.0 748.6,368.6 750.9,371.1 C753.3,373.7 757.8,375.4 762.0,375.9 C766.1,376.4 771.7,373.7 775.8,374.1 C780.0,374.4 784.5,376.2 786.9,378.1 C789.3,380.0 790.3,383.2 790.0,385.5 C789.7,387.8 787.9,390.5 785.0,392.0 C782.2,393.4 777.2,394.2 773.1,394.0 C768.9,393.8 763.8,391.1 760.1,390.7 C756.5,390.2 753.2,390.4 751.3,391.4 C749.4,392.5 748.4,395.0 748.7,396.9 C749.0,398.9 750.3,402.2 753.1,403.2 C756.0,404.3 761.3,403.8 765.7,403.2 C770.1,402.6 775.8,399.3 779.5,399.5 C783.2,399.8 786.1,402.6 787.8,404.7 C789.5,406.8 790.3,410.0 789.7,412.3 C789.0,414.5 786.9,416.9 784.1,418.3 C781.4,419.8 776.7,421.0 773.1,420.9 C769.4,420.9 764.9,419.3 762.0,418.0 C759.1,416.7 756.6,414.0 755.5,413.2" stroke="#6ea6da" stroke-width="2" stroke-dasharray="2.2,2.6" opacity="0.85"/>
<path d="M755.5,413.2 C754.8,413.2 752.1,412.5 750.9,413.2 C749.8,413.9 748.4,415.9 748.7,417.2 C749.0,418.5 752.1,420.3 752.8,420.9" stroke="#2f6bb0" stroke-width="2.2"/>
<path d="M751.6,420.6 L748,424 M751.6,420.6 L755,423.6 M749,416 L746,414" stroke="#2f6bb0" stroke-width="1.2"/>
<!-- head -->
<path d="M768,346.6 C772,344.6 777,346 780.4,349.6 C783.6,352.6 785.6,356 784.6,359.6 C783.6,362 780,362.6 776,361.6 C771.6,361.6 768,360 766,357 C764.6,353.6 765.6,349 768,346.6 Z" fill="#2f6fb4" stroke="#1f4f8a" stroke-width="1"/>
<path d="M771,351 C774,350 777,351 779,353" stroke="#8fc0ea" stroke-width="1.1"/>
<circle cx="778.4" cy="353.6" r="0.9" fill="#dff0ff" stroke="none"/>
<path d="M769.6,346 L763.6,338.6 M772.6,345 L769.6,340 M776,345.6 L777,341.6 M780,348 L784,345 M784,357 L788.6,358.6 M782,361 L786,364" stroke="#1f4f8a" stroke-width="1.2"/>
<!-- claws -->
<path d="M757,384 L761,387 M757,388 L762,390.6 M772,366 L768,364 M766,409.6 L762,412" stroke="#3d7cc0" stroke-width="1.1"/>
</g>
</svg></body></html>
